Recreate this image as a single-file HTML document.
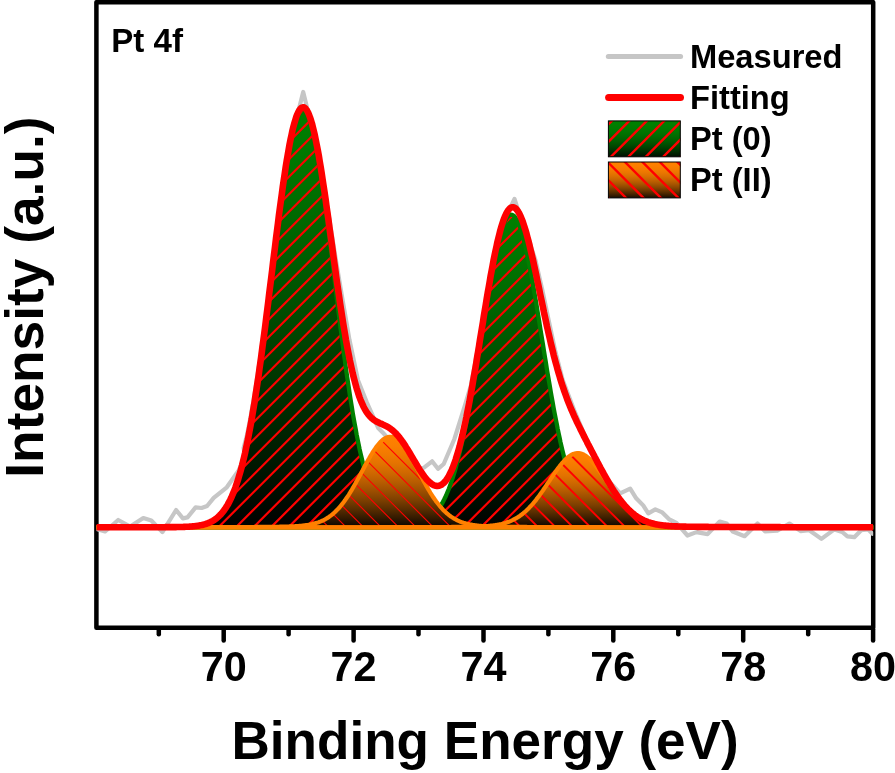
<!DOCTYPE html>
<html lang="en"><head><meta charset="utf-8"><title>Pt 4f XPS</title>
<style>html,body{margin:0;padding:0;background:#fff;}body{width:895px;height:773px;overflow:hidden;}svg{display:block;}</style>
</head><body>
<svg width="895" height="773" viewBox="0 0 895 773">
<defs>
<linearGradient id="gg" x1="0" y1="0" x2="0" y2="1"><stop offset="0.00" stop-color="#008000"/><stop offset="0.10" stop-color="#007900"/><stop offset="0.20" stop-color="#006f00"/><stop offset="0.30" stop-color="#006400"/><stop offset="0.40" stop-color="#005700"/><stop offset="0.50" stop-color="#004a00"/><stop offset="0.60" stop-color="#003c00"/><stop offset="0.70" stop-color="#002e00"/><stop offset="0.80" stop-color="#001f00"/><stop offset="0.90" stop-color="#001000"/><stop offset="1.00" stop-color="#000000"/></linearGradient>
<linearGradient id="og" x1="0" y1="0" x2="0" y2="1"><stop offset="0.00" stop-color="#ff8000"/><stop offset="0.10" stop-color="#fb7e00"/><stop offset="0.20" stop-color="#f17900"/><stop offset="0.30" stop-color="#e37200"/><stop offset="0.40" stop-color="#cf6800"/><stop offset="0.50" stop-color="#b85c00"/><stop offset="0.60" stop-color="#9c4e00"/><stop offset="0.70" stop-color="#7d3f00"/><stop offset="0.80" stop-color="#592d00"/><stop offset="0.90" stop-color="#321900"/><stop offset="1.00" stop-color="#080400"/></linearGradient>
<linearGradient id="lgg" x1="0" y1="0" x2="0" y2="1"><stop offset="0.00" stop-color="#008000"/><stop offset="0.10" stop-color="#007f00"/><stop offset="0.20" stop-color="#007b00"/><stop offset="0.30" stop-color="#007600"/><stop offset="0.40" stop-color="#006e00"/><stop offset="0.50" stop-color="#006300"/><stop offset="0.60" stop-color="#005700"/><stop offset="0.70" stop-color="#004800"/><stop offset="0.80" stop-color="#003600"/><stop offset="0.90" stop-color="#002300"/><stop offset="1.00" stop-color="#000d00"/></linearGradient>
<linearGradient id="log" x1="0" y1="0" x2="0" y2="1"><stop offset="0.00" stop-color="#ff8000"/><stop offset="0.10" stop-color="#fd7f00"/><stop offset="0.20" stop-color="#f67b00"/><stop offset="0.30" stop-color="#ea7600"/><stop offset="0.40" stop-color="#da6e00"/><stop offset="0.50" stop-color="#c66300"/><stop offset="0.60" stop-color="#ac5700"/><stop offset="0.70" stop-color="#8f4800"/><stop offset="0.80" stop-color="#6c3600"/><stop offset="0.90" stop-color="#452300"/><stop offset="1.00" stop-color="#1a0d00"/></linearGradient>
<path id="pg1" d="M86.4 527.40 L96.4 527.40 L97.4 527.40 L98.3 527.40 L99.3 527.40 L100.3 527.40 L101.3 527.40 L102.2 527.40 L103.2 527.40 L104.2 527.40 L105.1 527.40 L106.1 527.40 L107.1 527.40 L108.1 527.40 L109.0 527.40 L110.0 527.40 L111.0 527.40 L111.9 527.40 L112.9 527.40 L113.9 527.40 L114.8 527.40 L115.8 527.40 L116.8 527.40 L117.8 527.40 L118.7 527.40 L119.7 527.40 L120.7 527.40 L121.6 527.40 L122.6 527.40 L123.6 527.40 L124.6 527.40 L125.5 527.40 L126.5 527.40 L127.5 527.40 L128.4 527.40 L129.4 527.40 L130.4 527.40 L131.4 527.40 L132.3 527.40 L133.3 527.40 L134.3 527.40 L135.2 527.40 L136.2 527.40 L137.2 527.40 L138.2 527.40 L139.1 527.40 L140.1 527.40 L141.1 527.40 L142.0 527.40 L143.0 527.40 L144.0 527.40 L144.9 527.40 L145.9 527.40 L146.9 527.40 L147.9 527.40 L148.8 527.40 L149.8 527.40 L150.8 527.40 L151.7 527.40 L152.7 527.40 L153.7 527.40 L154.7 527.40 L155.6 527.39 L156.6 527.39 L157.6 527.39 L158.5 527.39 L159.5 527.39 L160.5 527.39 L161.5 527.39 L162.4 527.38 L163.4 527.38 L164.4 527.38 L165.3 527.38 L166.3 527.37 L167.3 527.37 L168.3 527.37 L169.2 527.36 L170.2 527.35 L171.2 527.35 L172.1 527.34 L173.1 527.33 L174.1 527.32 L175.1 527.31 L176.0 527.30 L177.0 527.29 L178.0 527.27 L178.9 527.25 L179.9 527.23 L180.9 527.21 L181.8 527.19 L182.8 527.16 L183.8 527.13 L184.8 527.10 L185.7 527.06 L186.7 527.02 L187.7 526.97 L188.6 526.92 L189.6 526.86 L190.6 526.79 L191.6 526.72 L192.5 526.64 L193.5 526.55 L194.5 526.45 L195.4 526.34 L196.4 526.22 L197.4 526.09 L198.4 525.94 L199.3 525.78 L200.3 525.61 L201.3 525.41 L202.2 525.20 L203.2 524.97 L204.2 524.71 L205.2 524.43 L206.1 524.12 L207.1 523.79 L208.1 523.43 L209.0 523.03 L210.0 522.60 L211.0 522.13 L211.9 521.63 L212.9 521.08 L213.9 520.48 L214.9 519.83 L215.8 519.14 L216.8 518.39 L217.8 517.57 L218.7 516.70 L219.7 515.76 L220.7 514.75 L221.7 513.67 L222.6 512.50 L223.6 511.26 L224.6 509.93 L225.5 508.50 L226.5 506.98 L227.5 505.36 L228.5 503.64 L229.4 501.80 L230.4 499.85 L231.4 497.78 L232.3 495.58 L233.3 493.26 L234.3 490.80 L235.3 488.20 L236.2 485.46 L237.2 482.57 L238.2 479.53 L239.1 476.34 L240.1 472.98 L241.1 469.46 L242.1 465.77 L243.0 461.92 L244.0 457.89 L245.0 453.68 L245.9 449.29 L246.9 444.73 L247.9 439.98 L248.8 435.05 L249.8 429.94 L250.8 424.64 L251.8 419.17 L252.7 413.51 L253.7 407.68 L254.7 401.67 L255.6 395.48 L256.6 389.13 L257.6 382.61 L258.6 375.94 L259.5 369.11 L260.5 362.14 L261.5 355.03 L262.4 347.79 L263.4 340.42 L264.4 332.95 L265.4 325.37 L266.3 317.70 L267.3 309.96 L268.3 302.15 L269.2 294.29 L270.2 286.39 L271.2 278.47 L272.2 270.53 L273.1 262.61 L274.1 254.70 L275.1 246.83 L276.0 239.02 L277.0 231.29 L278.0 223.64 L278.9 216.10 L279.9 208.68 L280.9 201.41 L281.9 194.29 L282.8 187.35 L283.8 180.61 L284.8 174.08 L285.7 167.78 L286.7 161.73 L287.7 155.94 L288.7 150.42 L289.6 145.20 L290.6 140.28 L291.6 135.68 L292.5 131.42 L293.5 127.50 L294.5 123.94 L295.5 120.74 L296.4 117.92 L297.4 115.49 L298.4 113.44 L299.3 111.79 L300.3 110.54 L301.3 109.70 L302.3 109.27 L303.2 109.24 L304.2 109.62 L305.2 110.41 L306.1 111.61 L307.1 113.21 L308.1 115.20 L309.0 117.59 L310.0 120.36 L311.0 123.51 L312.0 127.02 L312.9 130.90 L313.9 135.12 L314.9 139.67 L315.8 144.55 L316.8 149.73 L317.8 155.21 L318.8 160.97 L319.7 166.99 L320.7 173.26 L321.7 179.76 L322.6 186.48 L323.6 193.39 L324.6 200.48 L325.6 207.73 L326.5 215.13 L327.5 222.66 L328.5 230.30 L329.4 238.02 L330.4 245.83 L331.4 253.69 L332.4 261.59 L333.3 269.51 L334.3 277.44 L335.3 285.37 L336.2 293.27 L337.2 301.14 L338.2 308.96 L339.2 316.71 L340.1 324.39 L341.1 331.98 L342.1 339.47 L343.0 346.84 L344.0 354.10 L345.0 361.23 L345.9 368.22 L346.9 375.07 L347.9 381.76 L348.9 388.30 L349.8 394.67 L350.8 400.88 L351.8 406.91 L352.7 412.77 L353.7 418.45 L354.7 423.95 L355.7 429.27 L356.6 434.40 L357.6 439.35 L358.6 444.12 L359.5 448.71 L360.5 453.12 L361.5 457.35 L362.5 461.41 L363.4 465.29 L364.4 469.00 L365.4 472.54 L366.3 475.92 L367.3 479.13 L368.3 482.19 L369.3 485.10 L370.2 487.86 L371.2 490.47 L372.2 492.95 L373.1 495.29 L374.1 497.50 L375.1 499.59 L376.0 501.55 L377.0 503.41 L378.0 505.15 L379.0 506.78 L379.9 508.31 L380.9 509.75 L381.9 511.09 L382.8 512.35 L383.8 513.52 L384.8 514.62 L385.8 515.63 L386.7 516.58 L387.7 517.47 L388.7 518.28 L389.6 519.04 L390.6 519.75 L391.6 520.40 L392.6 521.00 L393.5 521.56 L394.5 522.07 L395.5 522.54 L396.4 522.98 L397.4 523.38 L398.4 523.75 L399.4 524.08 L400.3 524.39 L401.3 524.68 L402.3 524.93 L403.2 525.17 L404.2 525.39 L405.2 525.58 L406.1 525.76 L407.1 525.92 L408.1 526.07 L409.1 526.21 L410.0 526.33 L411.0 526.44 L412.0 526.54 L412.9 526.63 L413.9 526.71 L414.9 526.78 L415.9 526.85 L416.8 526.91 L417.8 526.96 L418.8 527.01 L419.7 527.05 L420.7 527.09 L421.7 527.13 L422.7 527.16 L423.6 527.19 L424.6 527.21 L425.6 527.23 L426.5 527.25 L427.5 527.27 L428.5 527.28 L429.5 527.30 L430.4 527.31 L431.4 527.32 L432.4 527.33 L433.3 527.34 L434.3 527.35 L435.3 527.35 L436.2 527.36 L437.2 527.36 L438.2 527.37 L439.2 527.37 L440.1 527.38 L441.1 527.38 L442.1 527.38 L443.0 527.38 L444.0 527.39 L445.0 527.39 L446.0 527.39 L446.9 527.39 L447.9 527.39 L448.9 527.39 L449.8 527.39 L450.8 527.40 L451.8 527.40 L452.8 527.40 L453.7 527.40 L454.7 527.40 L455.7 527.40 L456.6 527.40 L457.6 527.40 L458.6 527.40 L459.6 527.40 L460.5 527.40 L461.5 527.40 L462.5 527.40 L463.4 527.40 L464.4 527.40 L465.4 527.40 L466.4 527.40 L467.3 527.40 L468.3 527.40 L469.3 527.40 L470.2 527.40 L471.2 527.40 L472.2 527.40 L473.1 527.40 L474.1 527.40 L475.1 527.40 L476.1 527.40 L477.0 527.40 L478.0 527.40 L479.0 527.40 L479.9 527.40 L480.9 527.40 L481.9 527.40 L482.9 527.40 L483.8 527.40 L484.8 527.40 L485.8 527.40 L486.7 527.40 L487.7 527.40 L488.7 527.40 L489.7 527.40 L490.6 527.40 L491.6 527.40 L492.6 527.40 L493.5 527.40 L494.5 527.40 L495.5 527.40 L496.5 527.40 L497.4 527.40 L498.4 527.40 L499.4 527.40 L500.3 527.40 L501.3 527.40 L502.3 527.40 L503.2 527.40 L504.2 527.40 L505.2 527.40 L506.2 527.40 L507.1 527.40 L508.1 527.40 L509.1 527.40 L510.0 527.40 L511.0 527.40 L512.0 527.40 L513.0 527.40 L513.9 527.40 L514.9 527.40 L515.9 527.40 L516.8 527.40 L517.8 527.40 L518.8 527.40 L519.8 527.40 L520.7 527.40 L521.7 527.40 L522.7 527.40 L523.6 527.40 L524.6 527.40 L525.6 527.40 L526.6 527.40 L527.5 527.40 L528.5 527.40 L529.5 527.40 L530.4 527.40 L531.4 527.40 L532.4 527.40 L533.4 527.40 L534.3 527.40 L535.3 527.40 L536.3 527.40 L537.2 527.40 L538.2 527.40 L539.2 527.40 L540.1 527.40 L541.1 527.40 L542.1 527.40 L543.1 527.40 L544.0 527.40 L545.0 527.40 L546.0 527.40 L546.9 527.40 L547.9 527.40 L548.9 527.40 L549.9 527.40 L550.8 527.40 L551.8 527.40 L552.8 527.40 L553.7 527.40 L554.7 527.40 L555.7 527.40 L556.7 527.40 L557.6 527.40 L558.6 527.40 L559.6 527.40 L560.5 527.40 L561.5 527.40 L562.5 527.40 L563.5 527.40 L564.4 527.40 L565.4 527.40 L566.4 527.40 L567.3 527.40 L568.3 527.40 L569.3 527.40 L570.2 527.40 L571.2 527.40 L572.2 527.40 L573.2 527.40 L574.1 527.40 L575.1 527.40 L576.1 527.40 L577.0 527.40 L578.0 527.40 L579.0 527.40 L580.0 527.40 L580.9 527.40 L581.9 527.40 L582.9 527.40 L583.8 527.40 L584.8 527.40 L585.8 527.40 L586.8 527.40 L587.7 527.40 L588.7 527.40 L589.7 527.40 L590.6 527.40 L591.6 527.40 L592.6 527.40 L593.6 527.40 L594.5 527.40 L595.5 527.40 L596.5 527.40 L597.4 527.40 L598.4 527.40 L599.4 527.40 L600.3 527.40 L601.3 527.40 L602.3 527.40 L603.3 527.40 L604.2 527.40 L605.2 527.40 L606.2 527.40 L607.1 527.40 L608.1 527.40 L609.1 527.40 L610.1 527.40 L611.0 527.40 L612.0 527.40 L613.0 527.40 L613.9 527.40 L614.9 527.40 L615.9 527.40 L616.9 527.40 L617.8 527.40 L618.8 527.40 L619.8 527.40 L620.7 527.40 L621.7 527.40 L622.7 527.40 L623.7 527.40 L624.6 527.40 L625.6 527.40 L626.6 527.40 L627.5 527.40 L628.5 527.40 L629.5 527.40 L630.5 527.40 L631.4 527.40 L632.4 527.40 L633.4 527.40 L634.3 527.40 L635.3 527.40 L636.3 527.40 L637.2 527.40 L638.2 527.40 L639.2 527.40 L640.2 527.40 L641.1 527.40 L642.1 527.40 L643.1 527.40 L644.0 527.40 L645.0 527.40 L646.0 527.40 L647.0 527.40 L647.9 527.40 L648.9 527.40 L649.9 527.40 L650.8 527.40 L651.8 527.40 L652.8 527.40 L653.8 527.40 L654.7 527.40 L655.7 527.40 L656.7 527.40 L657.6 527.40 L658.6 527.40 L659.6 527.40 L660.6 527.40 L661.5 527.40 L662.5 527.40 L663.5 527.40 L664.4 527.40 L665.4 527.40 L666.4 527.40 L667.3 527.40 L668.3 527.40 L669.3 527.40 L670.3 527.40 L671.2 527.40 L672.2 527.40 L673.2 527.40 L674.1 527.40 L675.1 527.40 L676.1 527.40 L677.1 527.40 L678.0 527.40 L679.0 527.40 L680.0 527.40 L680.9 527.40 L681.9 527.40 L682.9 527.40 L683.9 527.40 L684.8 527.40 L685.8 527.40 L686.8 527.40 L687.7 527.40 L688.7 527.40 L689.7 527.40 L690.7 527.40 L691.6 527.40 L692.6 527.40 L693.6 527.40 L694.5 527.40 L695.5 527.40 L696.5 527.40 L697.4 527.40 L698.4 527.40 L699.4 527.40 L700.4 527.40 L701.3 527.40 L702.3 527.40 L703.3 527.40 L704.2 527.40 L705.2 527.40 L706.2 527.40 L707.2 527.40 L708.1 527.40 L709.1 527.40 L710.1 527.40 L711.0 527.40 L712.0 527.40 L713.0 527.40 L714.0 527.40 L714.9 527.40 L715.9 527.40 L716.9 527.40 L717.8 527.40 L718.8 527.40 L719.8 527.40 L720.8 527.40 L721.7 527.40 L722.7 527.40 L723.7 527.40 L724.6 527.40 L725.6 527.40 L726.6 527.40 L727.6 527.40 L728.5 527.40 L729.5 527.40 L730.5 527.40 L731.4 527.40 L732.4 527.40 L733.4 527.40 L734.3 527.40 L735.3 527.40 L736.3 527.40 L737.3 527.40 L738.2 527.40 L739.2 527.40 L740.2 527.40 L741.1 527.40 L742.1 527.40 L743.1 527.40 L744.1 527.40 L745.0 527.40 L746.0 527.40 L747.0 527.40 L747.9 527.40 L748.9 527.40 L749.9 527.40 L750.9 527.40 L751.8 527.40 L752.8 527.40 L753.8 527.40 L754.7 527.40 L755.7 527.40 L756.7 527.40 L757.7 527.40 L758.6 527.40 L759.6 527.40 L760.6 527.40 L761.5 527.40 L762.5 527.40 L763.5 527.40 L764.4 527.40 L765.4 527.40 L766.4 527.40 L767.4 527.40 L768.3 527.40 L769.3 527.40 L770.3 527.40 L771.2 527.40 L772.2 527.40 L773.2 527.40 L774.2 527.40 L775.1 527.40 L776.1 527.40 L777.1 527.40 L778.0 527.40 L779.0 527.40 L780.0 527.40 L781.0 527.40 L781.9 527.40 L782.9 527.40 L783.9 527.40 L784.8 527.40 L785.8 527.40 L786.8 527.40 L787.8 527.40 L788.7 527.40 L789.7 527.40 L790.7 527.40 L791.6 527.40 L792.6 527.40 L793.6 527.40 L794.5 527.40 L795.5 527.40 L796.5 527.40 L797.5 527.40 L798.4 527.40 L799.4 527.40 L800.4 527.40 L801.3 527.40 L802.3 527.40 L803.3 527.40 L804.3 527.40 L805.2 527.40 L806.2 527.40 L807.2 527.40 L808.1 527.40 L809.1 527.40 L810.1 527.40 L811.1 527.40 L812.0 527.40 L813.0 527.40 L814.0 527.40 L814.9 527.40 L815.9 527.40 L816.9 527.40 L817.9 527.40 L818.8 527.40 L819.8 527.40 L820.8 527.40 L821.7 527.40 L822.7 527.40 L823.7 527.40 L824.6 527.40 L825.6 527.40 L826.6 527.40 L827.6 527.40 L828.5 527.40 L829.5 527.40 L830.5 527.40 L831.4 527.40 L832.4 527.40 L833.4 527.40 L834.4 527.40 L835.3 527.40 L836.3 527.40 L837.3 527.40 L838.2 527.40 L839.2 527.40 L840.2 527.40 L841.2 527.40 L842.1 527.40 L843.1 527.40 L844.1 527.40 L845.0 527.40 L846.0 527.40 L847.0 527.40 L848.0 527.40 L848.9 527.40 L849.9 527.40 L850.9 527.40 L851.8 527.40 L852.8 527.40 L853.8 527.40 L854.8 527.40 L855.7 527.40 L856.7 527.40 L857.7 527.40 L858.6 527.40 L859.6 527.40 L860.6 527.40 L861.5 527.40 L862.5 527.40 L863.5 527.40 L864.5 527.40 L865.4 527.40 L866.4 527.40 L867.4 527.40 L868.3 527.40 L869.3 527.40 L870.3 527.40 L871.3 527.40 L872.2 527.40 L873.2 527.40 L883.2 527.40 Z"/>
<path id="pg2" d="M86.4 527.40 L96.4 527.40 L97.4 527.40 L98.3 527.40 L99.3 527.40 L100.3 527.40 L101.3 527.40 L102.2 527.40 L103.2 527.40 L104.2 527.40 L105.1 527.40 L106.1 527.40 L107.1 527.40 L108.1 527.40 L109.0 527.40 L110.0 527.40 L111.0 527.40 L111.9 527.40 L112.9 527.40 L113.9 527.40 L114.8 527.40 L115.8 527.40 L116.8 527.40 L117.8 527.40 L118.7 527.40 L119.7 527.40 L120.7 527.40 L121.6 527.40 L122.6 527.40 L123.6 527.40 L124.6 527.40 L125.5 527.40 L126.5 527.40 L127.5 527.40 L128.4 527.40 L129.4 527.40 L130.4 527.40 L131.4 527.40 L132.3 527.40 L133.3 527.40 L134.3 527.40 L135.2 527.40 L136.2 527.40 L137.2 527.40 L138.2 527.40 L139.1 527.40 L140.1 527.40 L141.1 527.40 L142.0 527.40 L143.0 527.40 L144.0 527.40 L144.9 527.40 L145.9 527.40 L146.9 527.40 L147.9 527.40 L148.8 527.40 L149.8 527.40 L150.8 527.40 L151.7 527.40 L152.7 527.40 L153.7 527.40 L154.7 527.40 L155.6 527.40 L156.6 527.40 L157.6 527.40 L158.5 527.40 L159.5 527.40 L160.5 527.40 L161.5 527.40 L162.4 527.40 L163.4 527.40 L164.4 527.40 L165.3 527.40 L166.3 527.40 L167.3 527.40 L168.3 527.40 L169.2 527.40 L170.2 527.40 L171.2 527.40 L172.1 527.40 L173.1 527.40 L174.1 527.40 L175.1 527.40 L176.0 527.40 L177.0 527.40 L178.0 527.40 L178.9 527.40 L179.9 527.40 L180.9 527.40 L181.8 527.40 L182.8 527.40 L183.8 527.40 L184.8 527.40 L185.7 527.40 L186.7 527.40 L187.7 527.40 L188.6 527.40 L189.6 527.40 L190.6 527.40 L191.6 527.40 L192.5 527.40 L193.5 527.40 L194.5 527.40 L195.4 527.40 L196.4 527.40 L197.4 527.40 L198.4 527.40 L199.3 527.40 L200.3 527.40 L201.3 527.40 L202.2 527.40 L203.2 527.40 L204.2 527.40 L205.2 527.40 L206.1 527.40 L207.1 527.40 L208.1 527.40 L209.0 527.40 L210.0 527.40 L211.0 527.40 L211.9 527.40 L212.9 527.40 L213.9 527.40 L214.9 527.40 L215.8 527.40 L216.8 527.40 L217.8 527.40 L218.7 527.40 L219.7 527.40 L220.7 527.40 L221.7 527.40 L222.6 527.40 L223.6 527.40 L224.6 527.40 L225.5 527.40 L226.5 527.40 L227.5 527.40 L228.5 527.40 L229.4 527.40 L230.4 527.40 L231.4 527.40 L232.3 527.40 L233.3 527.40 L234.3 527.40 L235.3 527.40 L236.2 527.40 L237.2 527.40 L238.2 527.40 L239.1 527.40 L240.1 527.40 L241.1 527.40 L242.1 527.40 L243.0 527.40 L244.0 527.40 L245.0 527.40 L245.9 527.40 L246.9 527.40 L247.9 527.40 L248.8 527.40 L249.8 527.40 L250.8 527.40 L251.8 527.40 L252.7 527.40 L253.7 527.40 L254.7 527.40 L255.6 527.40 L256.6 527.40 L257.6 527.40 L258.6 527.40 L259.5 527.40 L260.5 527.40 L261.5 527.40 L262.4 527.40 L263.4 527.40 L264.4 527.40 L265.4 527.40 L266.3 527.40 L267.3 527.40 L268.3 527.40 L269.2 527.40 L270.2 527.40 L271.2 527.40 L272.2 527.40 L273.1 527.40 L274.1 527.40 L275.1 527.40 L276.0 527.40 L277.0 527.40 L278.0 527.40 L278.9 527.40 L279.9 527.40 L280.9 527.40 L281.9 527.40 L282.8 527.40 L283.8 527.40 L284.8 527.40 L285.7 527.40 L286.7 527.40 L287.7 527.40 L288.7 527.40 L289.6 527.40 L290.6 527.40 L291.6 527.40 L292.5 527.40 L293.5 527.40 L294.5 527.40 L295.5 527.40 L296.4 527.40 L297.4 527.40 L298.4 527.40 L299.3 527.40 L300.3 527.40 L301.3 527.40 L302.3 527.40 L303.2 527.40 L304.2 527.40 L305.2 527.40 L306.1 527.40 L307.1 527.40 L308.1 527.40 L309.0 527.40 L310.0 527.40 L311.0 527.40 L312.0 527.40 L312.9 527.40 L313.9 527.40 L314.9 527.40 L315.8 527.40 L316.8 527.40 L317.8 527.40 L318.8 527.40 L319.7 527.40 L320.7 527.40 L321.7 527.40 L322.6 527.40 L323.6 527.40 L324.6 527.40 L325.6 527.40 L326.5 527.40 L327.5 527.40 L328.5 527.40 L329.4 527.40 L330.4 527.40 L331.4 527.40 L332.4 527.40 L333.3 527.40 L334.3 527.40 L335.3 527.40 L336.2 527.40 L337.2 527.40 L338.2 527.40 L339.2 527.40 L340.1 527.40 L341.1 527.40 L342.1 527.40 L343.0 527.40 L344.0 527.40 L345.0 527.40 L345.9 527.40 L346.9 527.40 L347.9 527.40 L348.9 527.40 L349.8 527.40 L350.8 527.40 L351.8 527.40 L352.7 527.40 L353.7 527.40 L354.7 527.40 L355.7 527.40 L356.6 527.40 L357.6 527.40 L358.6 527.40 L359.5 527.40 L360.5 527.40 L361.5 527.40 L362.5 527.40 L363.4 527.40 L364.4 527.40 L365.4 527.40 L366.3 527.40 L367.3 527.40 L368.3 527.39 L369.3 527.39 L370.2 527.39 L371.2 527.39 L372.2 527.39 L373.1 527.39 L374.1 527.39 L375.1 527.39 L376.0 527.38 L377.0 527.38 L378.0 527.38 L379.0 527.37 L379.9 527.37 L380.9 527.37 L381.9 527.36 L382.8 527.36 L383.8 527.35 L384.8 527.34 L385.8 527.33 L386.7 527.32 L387.7 527.31 L388.7 527.30 L389.6 527.29 L390.6 527.27 L391.6 527.26 L392.6 527.24 L393.5 527.22 L394.5 527.19 L395.5 527.17 L396.4 527.14 L397.4 527.10 L398.4 527.06 L399.4 527.02 L400.3 526.98 L401.3 526.93 L402.3 526.87 L403.2 526.80 L404.2 526.73 L405.2 526.66 L406.1 526.57 L407.1 526.47 L408.1 526.37 L409.1 526.25 L410.0 526.12 L411.0 525.98 L412.0 525.83 L412.9 525.65 L413.9 525.47 L414.9 525.26 L415.9 525.04 L416.8 524.79 L417.8 524.52 L418.8 524.23 L419.7 523.91 L420.7 523.56 L421.7 523.19 L422.7 522.78 L423.6 522.33 L424.6 521.85 L425.6 521.33 L426.5 520.77 L427.5 520.16 L428.5 519.50 L429.5 518.79 L430.4 518.03 L431.4 517.22 L432.4 516.34 L433.3 515.39 L434.3 514.39 L435.3 513.31 L436.2 512.15 L437.2 510.92 L438.2 509.61 L439.2 508.21 L440.1 506.72 L441.1 505.14 L442.1 503.47 L443.0 501.69 L444.0 499.81 L445.0 497.82 L446.0 495.73 L446.9 493.51 L447.9 491.18 L448.9 488.73 L449.8 486.15 L450.8 483.45 L451.8 480.61 L452.8 477.65 L453.7 474.54 L454.7 471.31 L455.7 467.93 L456.6 464.41 L457.6 460.76 L458.6 456.96 L459.6 453.02 L460.5 448.94 L461.5 444.72 L462.5 440.37 L463.4 435.87 L464.4 431.24 L465.4 426.48 L466.4 421.59 L467.3 416.57 L468.3 411.44 L469.3 406.19 L470.2 400.83 L471.2 395.36 L472.2 389.80 L473.1 384.15 L474.1 378.42 L475.1 372.62 L476.1 366.75 L477.0 360.83 L478.0 354.86 L479.0 348.86 L479.9 342.84 L480.9 336.81 L481.9 330.78 L482.9 324.77 L483.8 318.78 L484.8 312.84 L485.8 306.94 L486.7 301.12 L487.7 295.37 L488.7 289.72 L489.7 284.18 L490.6 278.76 L491.6 273.48 L492.6 268.34 L493.5 263.37 L494.5 258.58 L495.5 253.97 L496.5 249.57 L497.4 245.38 L498.4 241.42 L499.4 237.70 L500.3 234.22 L501.3 231.01 L502.3 228.06 L503.2 225.38 L504.2 222.99 L505.2 220.90 L506.2 219.10 L507.1 217.60 L508.1 216.41 L509.1 215.53 L510.0 214.96 L511.0 214.71 L512.0 214.78 L513.0 215.16 L513.9 215.86 L514.9 216.87 L515.9 218.19 L516.8 219.81 L517.8 221.74 L518.8 223.96 L519.8 226.46 L520.7 229.25 L521.7 232.32 L522.7 235.64 L523.6 239.22 L524.6 243.05 L525.6 247.10 L526.6 251.38 L527.5 255.87 L528.5 260.55 L529.5 265.42 L530.4 270.46 L531.4 275.66 L532.4 281.00 L533.4 286.48 L534.3 292.06 L535.3 297.76 L536.3 303.54 L537.2 309.39 L538.2 315.31 L539.2 321.28 L540.1 327.28 L541.1 333.30 L542.1 339.33 L543.1 345.35 L544.0 351.37 L545.0 357.35 L546.0 363.30 L546.9 369.20 L547.9 375.04 L548.9 380.82 L549.9 386.52 L550.8 392.13 L551.8 397.65 L552.8 403.08 L553.7 408.39 L554.7 413.60 L555.7 418.68 L556.7 423.64 L557.6 428.48 L558.6 433.19 L559.6 437.76 L560.5 442.20 L561.5 446.50 L562.5 450.66 L563.5 454.68 L564.4 458.56 L565.4 462.30 L566.4 465.90 L567.3 469.35 L568.3 472.67 L569.3 475.85 L570.2 478.90 L571.2 481.81 L572.2 484.59 L573.2 487.24 L574.1 489.77 L575.1 492.17 L576.1 494.45 L577.0 496.61 L578.0 498.67 L579.0 500.61 L580.0 502.45 L580.9 504.18 L581.9 505.81 L582.9 507.36 L583.8 508.80 L584.8 510.17 L585.8 511.44 L586.8 512.64 L587.7 513.77 L588.7 514.82 L589.7 515.80 L590.6 516.71 L591.6 517.56 L592.6 518.36 L593.6 519.10 L594.5 519.78 L595.5 520.42 L596.5 521.01 L597.4 521.55 L598.4 522.06 L599.4 522.52 L600.3 522.95 L601.3 523.35 L602.3 523.71 L603.3 524.05 L604.2 524.36 L605.2 524.64 L606.2 524.90 L607.1 525.13 L608.1 525.35 L609.1 525.55 L610.1 525.73 L611.0 525.89 L612.0 526.04 L613.0 526.18 L613.9 526.30 L614.9 526.41 L615.9 526.51 L616.9 526.61 L617.8 526.69 L618.8 526.76 L619.8 526.83 L620.7 526.89 L621.7 526.95 L622.7 527.00 L623.7 527.04 L624.6 527.08 L625.6 527.12 L626.6 527.15 L627.5 527.18 L628.5 527.20 L629.5 527.23 L630.5 527.25 L631.4 527.26 L632.4 527.28 L633.4 527.29 L634.3 527.31 L635.3 527.32 L636.3 527.33 L637.2 527.34 L638.2 527.34 L639.2 527.35 L640.2 527.36 L641.1 527.36 L642.1 527.37 L643.1 527.37 L644.0 527.38 L645.0 527.38 L646.0 527.38 L647.0 527.38 L647.9 527.39 L648.9 527.39 L649.9 527.39 L650.8 527.39 L651.8 527.39 L652.8 527.39 L653.8 527.39 L654.7 527.39 L655.7 527.40 L656.7 527.40 L657.6 527.40 L658.6 527.40 L659.6 527.40 L660.6 527.40 L661.5 527.40 L662.5 527.40 L663.5 527.40 L664.4 527.40 L665.4 527.40 L666.4 527.40 L667.3 527.40 L668.3 527.40 L669.3 527.40 L670.3 527.40 L671.2 527.40 L672.2 527.40 L673.2 527.40 L674.1 527.40 L675.1 527.40 L676.1 527.40 L677.1 527.40 L678.0 527.40 L679.0 527.40 L680.0 527.40 L680.9 527.40 L681.9 527.40 L682.9 527.40 L683.9 527.40 L684.8 527.40 L685.8 527.40 L686.8 527.40 L687.7 527.40 L688.7 527.40 L689.7 527.40 L690.7 527.40 L691.6 527.40 L692.6 527.40 L693.6 527.40 L694.5 527.40 L695.5 527.40 L696.5 527.40 L697.4 527.40 L698.4 527.40 L699.4 527.40 L700.4 527.40 L701.3 527.40 L702.3 527.40 L703.3 527.40 L704.2 527.40 L705.2 527.40 L706.2 527.40 L707.2 527.40 L708.1 527.40 L709.1 527.40 L710.1 527.40 L711.0 527.40 L712.0 527.40 L713.0 527.40 L714.0 527.40 L714.9 527.40 L715.9 527.40 L716.9 527.40 L717.8 527.40 L718.8 527.40 L719.8 527.40 L720.8 527.40 L721.7 527.40 L722.7 527.40 L723.7 527.40 L724.6 527.40 L725.6 527.40 L726.6 527.40 L727.6 527.40 L728.5 527.40 L729.5 527.40 L730.5 527.40 L731.4 527.40 L732.4 527.40 L733.4 527.40 L734.3 527.40 L735.3 527.40 L736.3 527.40 L737.3 527.40 L738.2 527.40 L739.2 527.40 L740.2 527.40 L741.1 527.40 L742.1 527.40 L743.1 527.40 L744.1 527.40 L745.0 527.40 L746.0 527.40 L747.0 527.40 L747.9 527.40 L748.9 527.40 L749.9 527.40 L750.9 527.40 L751.8 527.40 L752.8 527.40 L753.8 527.40 L754.7 527.40 L755.7 527.40 L756.7 527.40 L757.7 527.40 L758.6 527.40 L759.6 527.40 L760.6 527.40 L761.5 527.40 L762.5 527.40 L763.5 527.40 L764.4 527.40 L765.4 527.40 L766.4 527.40 L767.4 527.40 L768.3 527.40 L769.3 527.40 L770.3 527.40 L771.2 527.40 L772.2 527.40 L773.2 527.40 L774.2 527.40 L775.1 527.40 L776.1 527.40 L777.1 527.40 L778.0 527.40 L779.0 527.40 L780.0 527.40 L781.0 527.40 L781.9 527.40 L782.9 527.40 L783.9 527.40 L784.8 527.40 L785.8 527.40 L786.8 527.40 L787.8 527.40 L788.7 527.40 L789.7 527.40 L790.7 527.40 L791.6 527.40 L792.6 527.40 L793.6 527.40 L794.5 527.40 L795.5 527.40 L796.5 527.40 L797.5 527.40 L798.4 527.40 L799.4 527.40 L800.4 527.40 L801.3 527.40 L802.3 527.40 L803.3 527.40 L804.3 527.40 L805.2 527.40 L806.2 527.40 L807.2 527.40 L808.1 527.40 L809.1 527.40 L810.1 527.40 L811.1 527.40 L812.0 527.40 L813.0 527.40 L814.0 527.40 L814.9 527.40 L815.9 527.40 L816.9 527.40 L817.9 527.40 L818.8 527.40 L819.8 527.40 L820.8 527.40 L821.7 527.40 L822.7 527.40 L823.7 527.40 L824.6 527.40 L825.6 527.40 L826.6 527.40 L827.6 527.40 L828.5 527.40 L829.5 527.40 L830.5 527.40 L831.4 527.40 L832.4 527.40 L833.4 527.40 L834.4 527.40 L835.3 527.40 L836.3 527.40 L837.3 527.40 L838.2 527.40 L839.2 527.40 L840.2 527.40 L841.2 527.40 L842.1 527.40 L843.1 527.40 L844.1 527.40 L845.0 527.40 L846.0 527.40 L847.0 527.40 L848.0 527.40 L848.9 527.40 L849.9 527.40 L850.9 527.40 L851.8 527.40 L852.8 527.40 L853.8 527.40 L854.8 527.40 L855.7 527.40 L856.7 527.40 L857.7 527.40 L858.6 527.40 L859.6 527.40 L860.6 527.40 L861.5 527.40 L862.5 527.40 L863.5 527.40 L864.5 527.40 L865.4 527.40 L866.4 527.40 L867.4 527.40 L868.3 527.40 L869.3 527.40 L870.3 527.40 L871.3 527.40 L872.2 527.40 L873.2 527.40 L883.2 527.40 Z"/>
<path id="po1" d="M86.4 527.40 L96.4 527.30 L97.4 527.30 L98.3 527.30 L99.3 527.30 L100.3 527.30 L101.3 527.30 L102.2 527.30 L103.2 527.30 L104.2 527.30 L105.1 527.30 L106.1 527.30 L107.1 527.30 L108.1 527.30 L109.0 527.30 L110.0 527.29 L111.0 527.29 L111.9 527.29 L112.9 527.29 L113.9 527.29 L114.8 527.29 L115.8 527.29 L116.8 527.29 L117.8 527.29 L118.7 527.29 L119.7 527.29 L120.7 527.29 L121.6 527.29 L122.6 527.28 L123.6 527.28 L124.6 527.28 L125.5 527.28 L126.5 527.28 L127.5 527.28 L128.4 527.28 L129.4 527.28 L130.4 527.28 L131.4 527.28 L132.3 527.28 L133.3 527.28 L134.3 527.27 L135.2 527.27 L136.2 527.27 L137.2 527.27 L138.2 527.27 L139.1 527.27 L140.1 527.27 L141.1 527.27 L142.0 527.27 L143.0 527.27 L144.0 527.26 L144.9 527.26 L145.9 527.26 L146.9 527.26 L147.9 527.26 L148.8 527.26 L149.8 527.26 L150.8 527.26 L151.7 527.26 L152.7 527.25 L153.7 527.25 L154.7 527.25 L155.6 527.25 L156.6 527.25 L157.6 527.25 L158.5 527.25 L159.5 527.25 L160.5 527.24 L161.5 527.24 L162.4 527.24 L163.4 527.24 L164.4 527.24 L165.3 527.24 L166.3 527.24 L167.3 527.24 L168.3 527.23 L169.2 527.23 L170.2 527.23 L171.2 527.23 L172.1 527.23 L173.1 527.23 L174.1 527.22 L175.1 527.22 L176.0 527.22 L177.0 527.22 L178.0 527.22 L178.9 527.22 L179.9 527.22 L180.9 527.21 L181.8 527.21 L182.8 527.21 L183.8 527.21 L184.8 527.21 L185.7 527.20 L186.7 527.20 L187.7 527.20 L188.6 527.20 L189.6 527.20 L190.6 527.20 L191.6 527.19 L192.5 527.19 L193.5 527.19 L194.5 527.19 L195.4 527.19 L196.4 527.18 L197.4 527.18 L198.4 527.18 L199.3 527.18 L200.3 527.17 L201.3 527.17 L202.2 527.17 L203.2 527.17 L204.2 527.17 L205.2 527.16 L206.1 527.16 L207.1 527.16 L208.1 527.16 L209.0 527.15 L210.0 527.15 L211.0 527.15 L211.9 527.15 L212.9 527.14 L213.9 527.14 L214.9 527.14 L215.8 527.13 L216.8 527.13 L217.8 527.13 L218.7 527.13 L219.7 527.12 L220.7 527.12 L221.7 527.12 L222.6 527.11 L223.6 527.11 L224.6 527.11 L225.5 527.10 L226.5 527.10 L227.5 527.10 L228.5 527.09 L229.4 527.09 L230.4 527.09 L231.4 527.08 L232.3 527.08 L233.3 527.07 L234.3 527.07 L235.3 527.07 L236.2 527.06 L237.2 527.06 L238.2 527.05 L239.1 527.05 L240.1 527.05 L241.1 527.04 L242.1 527.04 L243.0 527.03 L244.0 527.03 L245.0 527.02 L245.9 527.02 L246.9 527.01 L247.9 527.01 L248.8 527.00 L249.8 527.00 L250.8 526.99 L251.8 526.99 L252.7 526.98 L253.7 526.98 L254.7 526.97 L255.6 526.96 L256.6 526.96 L257.6 526.95 L258.6 526.94 L259.5 526.94 L260.5 526.93 L261.5 526.92 L262.4 526.92 L263.4 526.91 L264.4 526.90 L265.4 526.89 L266.3 526.88 L267.3 526.88 L268.3 526.87 L269.2 526.86 L270.2 526.85 L271.2 526.84 L272.2 526.83 L273.1 526.81 L274.1 526.80 L275.1 526.79 L276.0 526.78 L277.0 526.76 L278.0 526.75 L278.9 526.73 L279.9 526.71 L280.9 526.70 L281.9 526.68 L282.8 526.66 L283.8 526.63 L284.8 526.61 L285.7 526.59 L286.7 526.56 L287.7 526.53 L288.7 526.50 L289.6 526.46 L290.6 526.43 L291.6 526.39 L292.5 526.34 L293.5 526.30 L294.5 526.25 L295.5 526.19 L296.4 526.13 L297.4 526.07 L298.4 526.00 L299.3 525.92 L300.3 525.84 L301.3 525.75 L302.3 525.65 L303.2 525.55 L304.2 525.43 L305.2 525.31 L306.1 525.18 L307.1 525.03 L308.1 524.88 L309.0 524.71 L310.0 524.53 L311.0 524.34 L312.0 524.13 L312.9 523.90 L313.9 523.66 L314.9 523.40 L315.8 523.12 L316.8 522.82 L317.8 522.50 L318.8 522.15 L319.7 521.79 L320.7 521.40 L321.7 520.98 L322.6 520.53 L323.6 520.06 L324.6 519.56 L325.6 519.03 L326.5 518.46 L327.5 517.86 L328.5 517.23 L329.4 516.56 L330.4 515.86 L331.4 515.11 L332.4 514.33 L333.3 513.51 L334.3 512.65 L335.3 511.74 L336.2 510.80 L337.2 509.81 L338.2 508.78 L339.2 507.70 L340.1 506.58 L341.1 505.42 L342.1 504.21 L343.0 502.96 L344.0 501.67 L345.0 500.33 L345.9 498.95 L346.9 497.53 L347.9 496.06 L348.9 494.56 L349.8 493.02 L350.8 491.44 L351.8 489.83 L352.7 488.19 L353.7 486.51 L354.7 484.81 L355.7 483.08 L356.6 481.33 L357.6 479.55 L358.6 477.76 L359.5 475.96 L360.5 474.15 L361.5 472.33 L362.5 470.51 L363.4 468.70 L364.4 466.89 L365.4 465.09 L366.3 463.30 L367.3 461.53 L368.3 459.79 L369.3 458.08 L370.2 456.40 L371.2 454.76 L372.2 453.16 L373.1 451.61 L374.1 450.12 L375.1 448.68 L376.0 447.30 L377.0 445.99 L378.0 444.76 L379.0 443.59 L379.9 442.51 L380.9 441.51 L381.9 440.60 L382.8 439.78 L383.8 439.06 L384.8 438.43 L385.8 437.90 L386.7 437.47 L387.7 437.15 L388.7 436.93 L389.6 436.82 L390.6 436.81 L391.6 436.91 L392.6 437.11 L393.5 437.42 L394.5 437.83 L395.5 438.35 L396.4 438.96 L397.4 439.67 L398.4 440.48 L399.4 441.37 L400.3 442.36 L401.3 443.43 L402.3 444.58 L403.2 445.80 L404.2 447.10 L405.2 448.47 L406.1 449.90 L407.1 451.39 L408.1 452.93 L409.1 454.52 L410.0 456.15 L411.0 457.83 L412.0 459.53 L412.9 461.27 L413.9 463.04 L414.9 464.82 L415.9 466.62 L416.8 468.43 L417.8 470.24 L418.8 472.06 L419.7 473.88 L420.7 475.69 L421.7 477.50 L422.7 479.29 L423.6 481.06 L424.6 482.82 L425.6 484.55 L426.5 486.26 L427.5 487.94 L428.5 489.59 L429.5 491.20 L430.4 492.79 L431.4 494.33 L432.4 495.84 L433.3 497.31 L434.3 498.74 L435.3 500.13 L436.2 501.47 L437.2 502.77 L438.2 504.03 L439.2 505.24 L440.1 506.41 L441.1 507.54 L442.1 508.62 L443.0 509.66 L444.0 510.65 L445.0 511.61 L446.0 512.52 L446.9 513.38 L447.9 514.21 L448.9 515.00 L449.8 515.75 L450.8 516.46 L451.8 517.13 L452.8 517.77 L453.7 518.37 L454.7 518.94 L455.7 519.48 L456.6 519.99 L457.6 520.47 L458.6 520.91 L459.6 521.34 L460.5 521.73 L461.5 522.10 L462.5 522.45 L463.4 522.77 L464.4 523.07 L465.4 523.36 L466.4 523.62 L467.3 523.87 L468.3 524.09 L469.3 524.31 L470.2 524.50 L471.2 524.68 L472.2 524.85 L473.1 525.01 L474.1 525.16 L475.1 525.29 L476.1 525.41 L477.0 525.53 L478.0 525.64 L479.0 525.73 L479.9 525.82 L480.9 525.91 L481.9 525.98 L482.9 526.06 L483.8 526.12 L484.8 526.18 L485.8 526.24 L486.7 526.29 L487.7 526.34 L488.7 526.38 L489.7 526.42 L490.6 526.46 L491.6 526.49 L492.6 526.52 L493.5 526.55 L494.5 526.58 L495.5 526.61 L496.5 526.63 L497.4 526.65 L498.4 526.67 L499.4 526.69 L500.3 526.71 L501.3 526.73 L502.3 526.74 L503.2 526.76 L504.2 526.77 L505.2 526.79 L506.2 526.80 L507.1 526.81 L508.1 526.82 L509.1 526.83 L510.0 526.84 L511.0 526.85 L512.0 526.86 L513.0 526.87 L513.9 526.88 L514.9 526.89 L515.9 526.90 L516.8 526.91 L517.8 526.91 L518.8 526.92 L519.8 526.93 L520.7 526.94 L521.7 526.94 L522.7 526.95 L523.6 526.96 L524.6 526.96 L525.6 526.97 L526.6 526.97 L527.5 526.98 L528.5 526.99 L529.5 526.99 L530.4 527.00 L531.4 527.00 L532.4 527.01 L533.4 527.01 L534.3 527.02 L535.3 527.02 L536.3 527.03 L537.2 527.03 L538.2 527.04 L539.2 527.04 L540.1 527.05 L541.1 527.05 L542.1 527.05 L543.1 527.06 L544.0 527.06 L545.0 527.07 L546.0 527.07 L546.9 527.07 L547.9 527.08 L548.9 527.08 L549.9 527.09 L550.8 527.09 L551.8 527.09 L552.8 527.10 L553.7 527.10 L554.7 527.10 L555.7 527.11 L556.7 527.11 L557.6 527.11 L558.6 527.12 L559.6 527.12 L560.5 527.12 L561.5 527.13 L562.5 527.13 L563.5 527.13 L564.4 527.13 L565.4 527.14 L566.4 527.14 L567.3 527.14 L568.3 527.15 L569.3 527.15 L570.2 527.15 L571.2 527.15 L572.2 527.16 L573.2 527.16 L574.1 527.16 L575.1 527.16 L576.1 527.17 L577.0 527.17 L578.0 527.17 L579.0 527.17 L580.0 527.17 L580.9 527.18 L581.9 527.18 L582.9 527.18 L583.8 527.18 L584.8 527.19 L585.8 527.19 L586.8 527.19 L587.7 527.19 L588.7 527.19 L589.7 527.20 L590.6 527.20 L591.6 527.20 L592.6 527.20 L593.6 527.20 L594.5 527.20 L595.5 527.21 L596.5 527.21 L597.4 527.21 L598.4 527.21 L599.4 527.21 L600.3 527.22 L601.3 527.22 L602.3 527.22 L603.3 527.22 L604.2 527.22 L605.2 527.22 L606.2 527.22 L607.1 527.23 L608.1 527.23 L609.1 527.23 L610.1 527.23 L611.0 527.23 L612.0 527.23 L613.0 527.24 L613.9 527.24 L614.9 527.24 L615.9 527.24 L616.9 527.24 L617.8 527.24 L618.8 527.24 L619.8 527.24 L620.7 527.25 L621.7 527.25 L622.7 527.25 L623.7 527.25 L624.6 527.25 L625.6 527.25 L626.6 527.25 L627.5 527.25 L628.5 527.26 L629.5 527.26 L630.5 527.26 L631.4 527.26 L632.4 527.26 L633.4 527.26 L634.3 527.26 L635.3 527.26 L636.3 527.26 L637.2 527.27 L638.2 527.27 L639.2 527.27 L640.2 527.27 L641.1 527.27 L642.1 527.27 L643.1 527.27 L644.0 527.27 L645.0 527.27 L646.0 527.27 L647.0 527.28 L647.9 527.28 L648.9 527.28 L649.9 527.28 L650.8 527.28 L651.8 527.28 L652.8 527.28 L653.8 527.28 L654.7 527.28 L655.7 527.28 L656.7 527.28 L657.6 527.28 L658.6 527.29 L659.6 527.29 L660.6 527.29 L661.5 527.29 L662.5 527.29 L663.5 527.29 L664.4 527.29 L665.4 527.29 L666.4 527.29 L667.3 527.29 L668.3 527.29 L669.3 527.29 L670.3 527.29 L671.2 527.30 L672.2 527.30 L673.2 527.30 L674.1 527.30 L675.1 527.30 L676.1 527.30 L677.1 527.30 L678.0 527.30 L679.0 527.30 L680.0 527.30 L680.9 527.30 L681.9 527.30 L682.9 527.30 L683.9 527.30 L684.8 527.30 L685.8 527.31 L686.8 527.31 L687.7 527.31 L688.7 527.31 L689.7 527.31 L690.7 527.31 L691.6 527.31 L692.6 527.31 L693.6 527.31 L694.5 527.31 L695.5 527.31 L696.5 527.31 L697.4 527.31 L698.4 527.31 L699.4 527.31 L700.4 527.31 L701.3 527.31 L702.3 527.31 L703.3 527.32 L704.2 527.32 L705.2 527.32 L706.2 527.32 L707.2 527.32 L708.1 527.32 L709.1 527.32 L710.1 527.32 L711.0 527.32 L712.0 527.32 L713.0 527.32 L714.0 527.32 L714.9 527.32 L715.9 527.32 L716.9 527.32 L717.8 527.32 L718.8 527.32 L719.8 527.32 L720.8 527.32 L721.7 527.32 L722.7 527.32 L723.7 527.33 L724.6 527.33 L725.6 527.33 L726.6 527.33 L727.6 527.33 L728.5 527.33 L729.5 527.33 L730.5 527.33 L731.4 527.33 L732.4 527.33 L733.4 527.33 L734.3 527.33 L735.3 527.33 L736.3 527.33 L737.3 527.33 L738.2 527.33 L739.2 527.33 L740.2 527.33 L741.1 527.33 L742.1 527.33 L743.1 527.33 L744.1 527.33 L745.0 527.33 L746.0 527.33 L747.0 527.33 L747.9 527.34 L748.9 527.34 L749.9 527.34 L750.9 527.34 L751.8 527.34 L752.8 527.34 L753.8 527.34 L754.7 527.34 L755.7 527.34 L756.7 527.34 L757.7 527.34 L758.6 527.34 L759.6 527.34 L760.6 527.34 L761.5 527.34 L762.5 527.34 L763.5 527.34 L764.4 527.34 L765.4 527.34 L766.4 527.34 L767.4 527.34 L768.3 527.34 L769.3 527.34 L770.3 527.34 L771.2 527.34 L772.2 527.34 L773.2 527.34 L774.2 527.34 L775.1 527.34 L776.1 527.34 L777.1 527.34 L778.0 527.34 L779.0 527.34 L780.0 527.35 L781.0 527.35 L781.9 527.35 L782.9 527.35 L783.9 527.35 L784.8 527.35 L785.8 527.35 L786.8 527.35 L787.8 527.35 L788.7 527.35 L789.7 527.35 L790.7 527.35 L791.6 527.35 L792.6 527.35 L793.6 527.35 L794.5 527.35 L795.5 527.35 L796.5 527.35 L797.5 527.35 L798.4 527.35 L799.4 527.35 L800.4 527.35 L801.3 527.35 L802.3 527.35 L803.3 527.35 L804.3 527.35 L805.2 527.35 L806.2 527.35 L807.2 527.35 L808.1 527.35 L809.1 527.35 L810.1 527.35 L811.1 527.35 L812.0 527.35 L813.0 527.35 L814.0 527.35 L814.9 527.35 L815.9 527.35 L816.9 527.35 L817.9 527.35 L818.8 527.35 L819.8 527.35 L820.8 527.36 L821.7 527.36 L822.7 527.36 L823.7 527.36 L824.6 527.36 L825.6 527.36 L826.6 527.36 L827.6 527.36 L828.5 527.36 L829.5 527.36 L830.5 527.36 L831.4 527.36 L832.4 527.36 L833.4 527.36 L834.4 527.36 L835.3 527.36 L836.3 527.36 L837.3 527.36 L838.2 527.36 L839.2 527.36 L840.2 527.36 L841.2 527.36 L842.1 527.36 L843.1 527.36 L844.1 527.36 L845.0 527.36 L846.0 527.36 L847.0 527.36 L848.0 527.36 L848.9 527.36 L849.9 527.36 L850.9 527.36 L851.8 527.36 L852.8 527.36 L853.8 527.36 L854.8 527.36 L855.7 527.36 L856.7 527.36 L857.7 527.36 L858.6 527.36 L859.6 527.36 L860.6 527.36 L861.5 527.36 L862.5 527.36 L863.5 527.36 L864.5 527.36 L865.4 527.36 L866.4 527.36 L867.4 527.36 L868.3 527.36 L869.3 527.36 L870.3 527.36 L871.3 527.36 L872.2 527.36 L873.2 527.36 L883.2 527.40 Z"/>
<path id="po2" d="M86.4 527.40 L96.4 527.37 L97.4 527.37 L98.3 527.37 L99.3 527.37 L100.3 527.37 L101.3 527.37 L102.2 527.37 L103.2 527.37 L104.2 527.37 L105.1 527.37 L106.1 527.37 L107.1 527.37 L108.1 527.37 L109.0 527.37 L110.0 527.37 L111.0 527.37 L111.9 527.37 L112.9 527.37 L113.9 527.37 L114.8 527.37 L115.8 527.37 L116.8 527.37 L117.8 527.37 L118.7 527.37 L119.7 527.37 L120.7 527.37 L121.6 527.37 L122.6 527.37 L123.6 527.37 L124.6 527.37 L125.5 527.37 L126.5 527.36 L127.5 527.36 L128.4 527.36 L129.4 527.36 L130.4 527.36 L131.4 527.36 L132.3 527.36 L133.3 527.36 L134.3 527.36 L135.2 527.36 L136.2 527.36 L137.2 527.36 L138.2 527.36 L139.1 527.36 L140.1 527.36 L141.1 527.36 L142.0 527.36 L143.0 527.36 L144.0 527.36 L144.9 527.36 L145.9 527.36 L146.9 527.36 L147.9 527.36 L148.8 527.36 L149.8 527.36 L150.8 527.36 L151.7 527.36 L152.7 527.36 L153.7 527.36 L154.7 527.36 L155.6 527.36 L156.6 527.36 L157.6 527.36 L158.5 527.36 L159.5 527.36 L160.5 527.36 L161.5 527.36 L162.4 527.36 L163.4 527.36 L164.4 527.36 L165.3 527.36 L166.3 527.36 L167.3 527.36 L168.3 527.36 L169.2 527.36 L170.2 527.36 L171.2 527.36 L172.1 527.36 L173.1 527.36 L174.1 527.36 L175.1 527.36 L176.0 527.36 L177.0 527.36 L178.0 527.36 L178.9 527.36 L179.9 527.36 L180.9 527.35 L181.8 527.35 L182.8 527.35 L183.8 527.35 L184.8 527.35 L185.7 527.35 L186.7 527.35 L187.7 527.35 L188.6 527.35 L189.6 527.35 L190.6 527.35 L191.6 527.35 L192.5 527.35 L193.5 527.35 L194.5 527.35 L195.4 527.35 L196.4 527.35 L197.4 527.35 L198.4 527.35 L199.3 527.35 L200.3 527.35 L201.3 527.35 L202.2 527.35 L203.2 527.35 L204.2 527.35 L205.2 527.35 L206.1 527.35 L207.1 527.35 L208.1 527.35 L209.0 527.35 L210.0 527.35 L211.0 527.35 L211.9 527.35 L212.9 527.35 L213.9 527.35 L214.9 527.35 L215.8 527.35 L216.8 527.35 L217.8 527.35 L218.7 527.34 L219.7 527.34 L220.7 527.34 L221.7 527.34 L222.6 527.34 L223.6 527.34 L224.6 527.34 L225.5 527.34 L226.5 527.34 L227.5 527.34 L228.5 527.34 L229.4 527.34 L230.4 527.34 L231.4 527.34 L232.3 527.34 L233.3 527.34 L234.3 527.34 L235.3 527.34 L236.2 527.34 L237.2 527.34 L238.2 527.34 L239.1 527.34 L240.1 527.34 L241.1 527.34 L242.1 527.34 L243.0 527.34 L244.0 527.34 L245.0 527.34 L245.9 527.34 L246.9 527.34 L247.9 527.33 L248.8 527.33 L249.8 527.33 L250.8 527.33 L251.8 527.33 L252.7 527.33 L253.7 527.33 L254.7 527.33 L255.6 527.33 L256.6 527.33 L257.6 527.33 L258.6 527.33 L259.5 527.33 L260.5 527.33 L261.5 527.33 L262.4 527.33 L263.4 527.33 L264.4 527.33 L265.4 527.33 L266.3 527.33 L267.3 527.33 L268.3 527.33 L269.2 527.33 L270.2 527.33 L271.2 527.32 L272.2 527.32 L273.1 527.32 L274.1 527.32 L275.1 527.32 L276.0 527.32 L277.0 527.32 L278.0 527.32 L278.9 527.32 L279.9 527.32 L280.9 527.32 L281.9 527.32 L282.8 527.32 L283.8 527.32 L284.8 527.32 L285.7 527.32 L286.7 527.32 L287.7 527.32 L288.7 527.32 L289.6 527.31 L290.6 527.31 L291.6 527.31 L292.5 527.31 L293.5 527.31 L294.5 527.31 L295.5 527.31 L296.4 527.31 L297.4 527.31 L298.4 527.31 L299.3 527.31 L300.3 527.31 L301.3 527.31 L302.3 527.31 L303.2 527.31 L304.2 527.31 L305.2 527.30 L306.1 527.30 L307.1 527.30 L308.1 527.30 L309.0 527.30 L310.0 527.30 L311.0 527.30 L312.0 527.30 L312.9 527.30 L313.9 527.30 L314.9 527.30 L315.8 527.30 L316.8 527.30 L317.8 527.30 L318.8 527.29 L319.7 527.29 L320.7 527.29 L321.7 527.29 L322.6 527.29 L323.6 527.29 L324.6 527.29 L325.6 527.29 L326.5 527.29 L327.5 527.29 L328.5 527.29 L329.4 527.29 L330.4 527.28 L331.4 527.28 L332.4 527.28 L333.3 527.28 L334.3 527.28 L335.3 527.28 L336.2 527.28 L337.2 527.28 L338.2 527.28 L339.2 527.28 L340.1 527.28 L341.1 527.27 L342.1 527.27 L343.0 527.27 L344.0 527.27 L345.0 527.27 L345.9 527.27 L346.9 527.27 L347.9 527.27 L348.9 527.27 L349.8 527.27 L350.8 527.26 L351.8 527.26 L352.7 527.26 L353.7 527.26 L354.7 527.26 L355.7 527.26 L356.6 527.26 L357.6 527.26 L358.6 527.25 L359.5 527.25 L360.5 527.25 L361.5 527.25 L362.5 527.25 L363.4 527.25 L364.4 527.25 L365.4 527.25 L366.3 527.24 L367.3 527.24 L368.3 527.24 L369.3 527.24 L370.2 527.24 L371.2 527.24 L372.2 527.23 L373.1 527.23 L374.1 527.23 L375.1 527.23 L376.0 527.23 L377.0 527.23 L378.0 527.23 L379.0 527.22 L379.9 527.22 L380.9 527.22 L381.9 527.22 L382.8 527.22 L383.8 527.22 L384.8 527.21 L385.8 527.21 L386.7 527.21 L387.7 527.21 L388.7 527.21 L389.6 527.20 L390.6 527.20 L391.6 527.20 L392.6 527.20 L393.5 527.20 L394.5 527.19 L395.5 527.19 L396.4 527.19 L397.4 527.19 L398.4 527.19 L399.4 527.18 L400.3 527.18 L401.3 527.18 L402.3 527.18 L403.2 527.17 L404.2 527.17 L405.2 527.17 L406.1 527.17 L407.1 527.16 L408.1 527.16 L409.1 527.16 L410.0 527.16 L411.0 527.15 L412.0 527.15 L412.9 527.15 L413.9 527.14 L414.9 527.14 L415.9 527.14 L416.8 527.14 L417.8 527.13 L418.8 527.13 L419.7 527.13 L420.7 527.12 L421.7 527.12 L422.7 527.12 L423.6 527.11 L424.6 527.11 L425.6 527.11 L426.5 527.10 L427.5 527.10 L428.5 527.09 L429.5 527.09 L430.4 527.09 L431.4 527.08 L432.4 527.08 L433.3 527.07 L434.3 527.07 L435.3 527.07 L436.2 527.06 L437.2 527.06 L438.2 527.05 L439.2 527.05 L440.1 527.04 L441.1 527.04 L442.1 527.03 L443.0 527.03 L444.0 527.02 L445.0 527.02 L446.0 527.01 L446.9 527.00 L447.9 527.00 L448.9 526.99 L449.8 526.99 L450.8 526.98 L451.8 526.97 L452.8 526.97 L453.7 526.96 L454.7 526.95 L455.7 526.94 L456.6 526.93 L457.6 526.92 L458.6 526.91 L459.6 526.91 L460.5 526.89 L461.5 526.88 L462.5 526.87 L463.4 526.86 L464.4 526.85 L465.4 526.83 L466.4 526.82 L467.3 526.80 L468.3 526.79 L469.3 526.77 L470.2 526.75 L471.2 526.73 L472.2 526.71 L473.1 526.68 L474.1 526.66 L475.1 526.63 L476.1 526.60 L477.0 526.57 L478.0 526.53 L479.0 526.49 L479.9 526.45 L480.9 526.41 L481.9 526.36 L482.9 526.31 L483.8 526.25 L484.8 526.19 L485.8 526.13 L486.7 526.06 L487.7 525.98 L488.7 525.90 L489.7 525.81 L490.6 525.71 L491.6 525.61 L492.6 525.50 L493.5 525.37 L494.5 525.24 L495.5 525.10 L496.5 524.95 L497.4 524.79 L498.4 524.61 L499.4 524.42 L500.3 524.22 L501.3 524.01 L502.3 523.77 L503.2 523.53 L504.2 523.26 L505.2 522.98 L506.2 522.67 L507.1 522.35 L508.1 522.01 L509.1 521.65 L510.0 521.26 L511.0 520.85 L512.0 520.41 L513.0 519.95 L513.9 519.47 L514.9 518.95 L515.9 518.41 L516.8 517.84 L517.8 517.24 L518.8 516.61 L519.8 515.95 L520.7 515.25 L521.7 514.53 L522.7 513.77 L523.6 512.97 L524.6 512.15 L525.6 511.29 L526.6 510.39 L527.5 509.46 L528.5 508.49 L529.5 507.49 L530.4 506.46 L531.4 505.39 L532.4 504.29 L533.4 503.15 L534.3 501.99 L535.3 500.79 L536.3 499.56 L537.2 498.30 L538.2 497.02 L539.2 495.71 L540.1 494.37 L541.1 493.01 L542.1 491.63 L543.1 490.24 L544.0 488.82 L545.0 487.39 L546.0 485.95 L546.9 484.50 L547.9 483.04 L548.9 481.59 L549.9 480.13 L550.8 478.67 L551.8 477.22 L552.8 475.78 L553.7 474.35 L554.7 472.94 L555.7 471.55 L556.7 470.18 L557.6 468.84 L558.6 467.53 L559.6 466.26 L560.5 465.02 L561.5 463.83 L562.5 462.68 L563.5 461.59 L564.4 460.54 L565.4 459.55 L566.4 458.62 L567.3 457.76 L568.3 456.96 L569.3 456.23 L570.2 455.57 L571.2 454.98 L572.2 454.47 L573.2 454.04 L574.1 453.69 L575.1 453.42 L576.1 453.23 L577.0 453.13 L578.0 453.10 L579.0 453.16 L580.0 453.31 L580.9 453.53 L581.9 453.84 L582.9 454.23 L583.8 454.69 L584.8 455.24 L585.8 455.85 L586.8 456.55 L587.7 457.31 L588.7 458.14 L589.7 459.03 L590.6 459.99 L591.6 461.00 L592.6 462.07 L593.6 463.19 L594.5 464.36 L595.5 465.57 L596.5 466.82 L597.4 468.11 L598.4 469.43 L599.4 470.79 L600.3 472.16 L601.3 473.56 L602.3 474.98 L603.3 476.42 L604.2 477.86 L605.2 479.32 L606.2 480.77 L607.1 482.23 L608.1 483.69 L609.1 485.15 L610.1 486.59 L611.0 488.03 L612.0 489.45 L613.0 490.86 L613.9 492.25 L614.9 493.62 L615.9 494.97 L616.9 496.29 L617.8 497.59 L618.8 498.87 L619.8 500.11 L620.7 501.33 L621.7 502.51 L622.7 503.66 L623.7 504.78 L624.6 505.87 L625.6 506.92 L626.6 507.94 L627.5 508.93 L628.5 509.88 L629.5 510.79 L630.5 511.67 L631.4 512.52 L632.4 513.33 L633.4 514.11 L634.3 514.85 L635.3 515.57 L636.3 516.25 L637.2 516.90 L638.2 517.51 L639.2 518.10 L640.2 518.66 L641.1 519.19 L642.1 519.69 L643.1 520.16 L644.0 520.61 L645.0 521.04 L646.0 521.43 L647.0 521.81 L647.9 522.17 L648.9 522.50 L649.9 522.81 L650.8 523.11 L651.8 523.38 L652.8 523.64 L653.8 523.88 L654.7 524.10 L655.7 524.31 L656.7 524.51 L657.6 524.69 L658.6 524.86 L659.6 525.02 L660.6 525.17 L661.5 525.30 L662.5 525.43 L663.5 525.55 L664.4 525.66 L665.4 525.76 L666.4 525.85 L667.3 525.94 L668.3 526.02 L669.3 526.09 L670.3 526.16 L671.2 526.22 L672.2 526.28 L673.2 526.33 L674.1 526.38 L675.1 526.43 L676.1 526.47 L677.1 526.51 L678.0 526.55 L679.0 526.58 L680.0 526.61 L680.9 526.64 L681.9 526.67 L682.9 526.69 L683.9 526.72 L684.8 526.74 L685.8 526.76 L686.8 526.78 L687.7 526.79 L688.7 526.81 L689.7 526.83 L690.7 526.84 L691.6 526.85 L692.6 526.87 L693.6 526.88 L694.5 526.89 L695.5 526.90 L696.5 526.91 L697.4 526.92 L698.4 526.93 L699.4 526.94 L700.4 526.95 L701.3 526.95 L702.3 526.96 L703.3 526.97 L704.2 526.98 L705.2 526.98 L706.2 526.99 L707.2 527.00 L708.1 527.00 L709.1 527.01 L710.1 527.01 L711.0 527.02 L712.0 527.02 L713.0 527.03 L714.0 527.03 L714.9 527.04 L715.9 527.04 L716.9 527.05 L717.8 527.05 L718.8 527.06 L719.8 527.06 L720.8 527.07 L721.7 527.07 L722.7 527.08 L723.7 527.08 L724.6 527.08 L725.6 527.09 L726.6 527.09 L727.6 527.10 L728.5 527.10 L729.5 527.10 L730.5 527.11 L731.4 527.11 L732.4 527.11 L733.4 527.12 L734.3 527.12 L735.3 527.12 L736.3 527.13 L737.3 527.13 L738.2 527.13 L739.2 527.14 L740.2 527.14 L741.1 527.14 L742.1 527.15 L743.1 527.15 L744.1 527.15 L745.0 527.15 L746.0 527.16 L747.0 527.16 L747.9 527.16 L748.9 527.16 L749.9 527.17 L750.9 527.17 L751.8 527.17 L752.8 527.17 L753.8 527.18 L754.7 527.18 L755.7 527.18 L756.7 527.18 L757.7 527.19 L758.6 527.19 L759.6 527.19 L760.6 527.19 L761.5 527.19 L762.5 527.20 L763.5 527.20 L764.4 527.20 L765.4 527.20 L766.4 527.20 L767.4 527.21 L768.3 527.21 L769.3 527.21 L770.3 527.21 L771.2 527.21 L772.2 527.22 L773.2 527.22 L774.2 527.22 L775.1 527.22 L776.1 527.22 L777.1 527.22 L778.0 527.23 L779.0 527.23 L780.0 527.23 L781.0 527.23 L781.9 527.23 L782.9 527.23 L783.9 527.24 L784.8 527.24 L785.8 527.24 L786.8 527.24 L787.8 527.24 L788.7 527.24 L789.7 527.24 L790.7 527.25 L791.6 527.25 L792.6 527.25 L793.6 527.25 L794.5 527.25 L795.5 527.25 L796.5 527.25 L797.5 527.25 L798.4 527.26 L799.4 527.26 L800.4 527.26 L801.3 527.26 L802.3 527.26 L803.3 527.26 L804.3 527.26 L805.2 527.26 L806.2 527.27 L807.2 527.27 L808.1 527.27 L809.1 527.27 L810.1 527.27 L811.1 527.27 L812.0 527.27 L813.0 527.27 L814.0 527.27 L814.9 527.28 L815.9 527.28 L816.9 527.28 L817.9 527.28 L818.8 527.28 L819.8 527.28 L820.8 527.28 L821.7 527.28 L822.7 527.28 L823.7 527.28 L824.6 527.28 L825.6 527.29 L826.6 527.29 L827.6 527.29 L828.5 527.29 L829.5 527.29 L830.5 527.29 L831.4 527.29 L832.4 527.29 L833.4 527.29 L834.4 527.29 L835.3 527.29 L836.3 527.29 L837.3 527.30 L838.2 527.30 L839.2 527.30 L840.2 527.30 L841.2 527.30 L842.1 527.30 L843.1 527.30 L844.1 527.30 L845.0 527.30 L846.0 527.30 L847.0 527.30 L848.0 527.30 L848.9 527.30 L849.9 527.30 L850.9 527.31 L851.8 527.31 L852.8 527.31 L853.8 527.31 L854.8 527.31 L855.7 527.31 L856.7 527.31 L857.7 527.31 L858.6 527.31 L859.6 527.31 L860.6 527.31 L861.5 527.31 L862.5 527.31 L863.5 527.31 L864.5 527.31 L865.4 527.31 L866.4 527.32 L867.4 527.32 L868.3 527.32 L869.3 527.32 L870.3 527.32 L871.3 527.32 L872.2 527.32 L873.2 527.32 L883.2 527.40 Z"/>
<path id="hg" d="M-344.2 547.4 L235.8 -32.6 M-326.7 547.4 L253.3 -32.6 M-309.2 547.4 L270.8 -32.6 M-291.7 547.4 L288.3 -32.6 M-274.2 547.4 L305.8 -32.6 M-256.7 547.4 L323.3 -32.6 M-239.2 547.4 L340.8 -32.6 M-221.7 547.4 L358.3 -32.6 M-204.2 547.4 L375.8 -32.6 M-186.7 547.4 L393.3 -32.6 M-169.2 547.4 L410.8 -32.6 M-151.7 547.4 L428.3 -32.6 M-134.2 547.4 L445.8 -32.6 M-116.7 547.4 L463.3 -32.6 M-99.2 547.4 L480.8 -32.6 M-81.7 547.4 L498.3 -32.6 M-64.2 547.4 L515.8 -32.6 M-46.7 547.4 L533.3 -32.6 M-29.2 547.4 L550.8 -32.6 M-11.7 547.4 L568.3 -32.6 M5.8 547.4 L585.8 -32.6 M23.3 547.4 L603.3 -32.6 M40.8 547.4 L620.8 -32.6 M58.3 547.4 L638.3 -32.6 M75.8 547.4 L655.8 -32.6 M93.3 547.4 L673.3 -32.6 M110.8 547.4 L690.8 -32.6 M128.3 547.4 L708.3 -32.6 M145.8 547.4 L725.8 -32.6 M163.3 547.4 L743.3 -32.6 M180.8 547.4 L760.8 -32.6 M198.3 547.4 L778.3 -32.6 M215.8 547.4 L795.8 -32.6 M233.3 547.4 L813.3 -32.6 M250.8 547.4 L830.8 -32.6 M268.3 547.4 L848.3 -32.6 M285.8 547.4 L865.8 -32.6 M303.3 547.4 L883.3 -32.6 M320.8 547.4 L900.8 -32.6 M338.3 547.4 L918.3 -32.6 M355.8 547.4 L935.8 -32.6 M373.3 547.4 L953.3 -32.6 M390.8 547.4 L970.8 -32.6 M408.3 547.4 L988.3 -32.6 M425.8 547.4 L1005.8 -32.6 M443.3 547.4 L1023.3 -32.6 M460.8 547.4 L1040.8 -32.6 M478.3 547.4 L1058.3 -32.6 M495.8 547.4 L1075.8 -32.6 M513.3 547.4 L1093.3 -32.6 M530.8 547.4 L1110.8 -32.6 M548.3 547.4 L1128.3 -32.6 M565.8 547.4 L1145.8 -32.6 M583.3 547.4 L1163.3 -32.6 M600.8 547.4 L1180.8 -32.6 M618.3 547.4 L1198.3 -32.6 M635.8 547.4 L1215.8 -32.6 M653.3 547.4 L1233.3 -32.6 M670.8 547.4 L1250.8 -32.6"/>
<path id="ho" d="M216.8 537.4 L86.8 407.4 M234.2 537.4 L104.2 407.4 M251.7 537.4 L121.7 407.4 M269.1 537.4 L139.1 407.4 M286.6 537.4 L156.6 407.4 M304.0 537.4 L174.0 407.4 M321.5 537.4 L191.5 407.4 M338.9 537.4 L208.9 407.4 M356.4 537.4 L226.4 407.4 M373.8 537.4 L243.8 407.4 M391.3 537.4 L261.3 407.4 M408.8 537.4 L278.8 407.4 M426.2 537.4 L296.2 407.4 M443.6 537.4 L313.6 407.4 M461.1 537.4 L331.1 407.4 M478.5 537.4 L348.5 407.4 M496.0 537.4 L366.0 407.4 M513.4 537.4 L383.4 407.4 M530.9 537.4 L400.9 407.4 M548.3 537.4 L418.3 407.4 M565.8 537.4 L435.8 407.4 M583.2 537.4 L453.2 407.4 M600.7 537.4 L470.7 407.4 M618.1 537.4 L488.1 407.4 M635.6 537.4 L505.6 407.4 M653.0 537.4 L523.0 407.4 M670.5 537.4 L540.5 407.4 M688.0 537.4 L558.0 407.4 M705.4 537.4 L575.4 407.4 M722.8 537.4 L592.8 407.4 M740.3 537.4 L610.3 407.4 M757.8 537.4 L627.8 407.4"/>
<clipPath id="cg1"><use href="#pg1"/></clipPath>
<clipPath id="cg2"><use href="#pg2"/></clipPath>
<clipPath id="co1"><use href="#po1"/></clipPath>
<clipPath id="co2"><use href="#po2"/></clipPath>
<clipPath id="cf"><rect x="96.4" y="2.2" width="776.8000000000001" height="625.5999999999999"/></clipPath>
<clipPath id="clg"><rect x="608.4" y="120.9" width="71.89999999999998" height="35.900000000000006"/></clipPath>
<clipPath id="clo"><rect x="608.4" y="162.0" width="71.89999999999998" height="35.900000000000006"/></clipPath>
</defs>
<rect width="895" height="773" fill="#fff"/>
<!-- frame -->
<rect x="96.4" y="2.2" width="776.8000000000001" height="625.5999999999999" fill="none" stroke="#000" stroke-width="4.5" stroke-linejoin="round"/>
<g stroke="#000" stroke-width="4.5" stroke-linecap="round"><line x1="158.8" y1="629.3" x2="158.8" y2="634.3"/><line x1="223.7" y1="629.3" x2="223.7" y2="640.5"/><line x1="288.6" y1="629.3" x2="288.6" y2="634.3"/><line x1="353.6" y1="629.3" x2="353.6" y2="640.5"/><line x1="418.5" y1="629.3" x2="418.5" y2="634.3"/><line x1="483.5" y1="629.3" x2="483.5" y2="640.5"/><line x1="548.4" y1="629.3" x2="548.4" y2="634.3"/><line x1="613.3" y1="629.3" x2="613.3" y2="640.5"/><line x1="678.3" y1="629.3" x2="678.3" y2="634.3"/><line x1="743.2" y1="629.3" x2="743.2" y2="640.5"/><line x1="808.2" y1="629.3" x2="808.2" y2="634.3"/><line x1="873.1" y1="629.3" x2="873.1" y2="640.5"/></g>
<g clip-path="url(#cf)">
<!-- measured -->
<path d="M96.4 529.0 L105.1 531.5 L118.2 520.0 L130.2 526.5 L143.3 518.0 L151.3 520.5 L162.4 532.1 L176.1 510.0 L182.9 518.4 L187.5 517.4 L195.6 507.4 L201.6 508.0 L207.1 506.0 L213.7 497.9 L226.8 487.3 L238.8 470.2 L244.9 456.1 L243.6 448.0 L247.0 435.0 L250.0 420.0 L254.4 395.0 L259.9 360.0 L265.5 320.0 L270.9 280.0 L275.8 240.0 L281.0 200.0 L286.8 160.0 L292.6 130.0 L296.7 117.8 L303.2 92.0 L309.7 118.5 L315.8 140.0 L322.7 180.0 L329.5 220.0 L335.9 260.0 L342.6 300.0 L349.5 340.0 L357.9 380.0 L366.8 402.3 L378.4 428.3 L382.9 432.7 L391.0 442.0 L400.0 452.0 L410.0 463.0 L418.0 470.0 L424.0 467.6 L432.1 461.3 L438.0 468.8 L443.7 464.0 L454.4 439.0 L465.1 405.0 L471.0 385.0 L477.6 350.0 L483.2 320.0 L489.9 280.0 L495.7 250.0 L501.9 225.0 L508.1 212.4 L514.5 199.0 L521.1 219.5 L525.4 230.0 L535.4 260.0 L542.3 290.0 L548.6 320.0 L555.0 350.0 L562.7 380.0 L574.1 410.0 L580.4 425.0 L591.1 450.0 L603.4 475.0 L620.1 493.3 L630.2 488.7 L636.2 498.3 L643.2 505.4 L648.3 513.4 L655.3 509.4 L662.3 512.4 L669.4 519.4 L676.4 522.9 L687.5 535.5 L696.5 532.1 L707.6 534.1 L719.7 521.5 L726.7 523.5 L732.7 531.5 L744.6 536.2 L757.5 523.4 L765.0 531.3 L777.2 530.6 L789.4 523.6 L800.6 531.1 L809.3 530.2 L821.4 538.9 L834.4 529.4 L842.2 532.0 L847.4 536.3 L854.3 537.2 L861.2 530.2 L868.2 529.4 L872.5 533.7" fill="none" stroke="#c6c6c6" stroke-width="4.2" stroke-linejoin="round" stroke-linecap="round"/>
<!-- Pt(0) -->
<use href="#pg1" fill="url(#gg)"/>
<use href="#pg2" fill="url(#gg)"/>
<use href="#hg" stroke="#ff0000" stroke-width="2.2" clip-path="url(#cg1)" fill="none"/>
<use href="#hg" stroke="#ff0000" stroke-width="2.2" clip-path="url(#cg2)" fill="none"/>
<use href="#pg1" fill="none" stroke="#008000" stroke-width="4.3" stroke-linejoin="round"/>
<use href="#pg2" fill="none" stroke="#008000" stroke-width="4.3" stroke-linejoin="round"/>
<!-- Pt(II) -->
<use href="#po1" fill="url(#og)"/>
<use href="#po2" fill="url(#og)"/>
<use href="#ho" stroke="#ff0000" stroke-width="1.1" clip-path="url(#co1)" fill="none"/>
<use href="#ho" stroke="#ff0000" stroke-width="1.9" clip-path="url(#co2)" fill="none"/>
<use href="#po1" fill="none" stroke="#ff8000" stroke-width="4.2" stroke-linejoin="round"/>
<use href="#po2" fill="none" stroke="#ff8000" stroke-width="4.2" stroke-linejoin="round"/>
<!-- fit -->
<path d="M96.4 527.27 L97.4 527.27 L98.3 527.27 L99.3 527.27 L100.3 527.27 L101.3 527.27 L102.2 527.27 L103.2 527.27 L104.2 527.27 L105.1 527.27 L106.1 527.27 L107.1 527.26 L108.1 527.26 L109.0 527.26 L110.0 527.26 L111.0 527.26 L111.9 527.26 L112.9 527.26 L113.9 527.26 L114.8 527.26 L115.8 527.26 L116.8 527.26 L117.8 527.26 L118.7 527.25 L119.7 527.25 L120.7 527.25 L121.6 527.25 L122.6 527.25 L123.6 527.25 L124.6 527.25 L125.5 527.25 L126.5 527.25 L127.5 527.25 L128.4 527.24 L129.4 527.24 L130.4 527.24 L131.4 527.24 L132.3 527.24 L133.3 527.24 L134.3 527.24 L135.2 527.24 L136.2 527.24 L137.2 527.23 L138.2 527.23 L139.1 527.23 L140.1 527.23 L141.1 527.23 L142.0 527.23 L143.0 527.23 L144.0 527.23 L144.9 527.22 L145.9 527.22 L146.9 527.22 L147.9 527.22 L148.8 527.22 L149.8 527.22 L150.8 527.22 L151.7 527.21 L152.7 527.21 L153.7 527.21 L154.7 527.21 L155.6 527.21 L156.6 527.20 L157.6 527.20 L158.5 527.20 L159.5 527.20 L160.5 527.19 L161.5 527.19 L162.4 527.19 L163.4 527.18 L164.4 527.18 L165.3 527.17 L166.3 527.17 L167.3 527.16 L168.3 527.16 L169.2 527.15 L170.2 527.14 L171.2 527.13 L172.1 527.13 L173.1 527.12 L174.1 527.10 L175.1 527.09 L176.0 527.08 L177.0 527.06 L178.0 527.05 L178.9 527.03 L179.9 527.01 L180.9 526.98 L181.8 526.96 L182.8 526.93 L183.8 526.89 L184.8 526.86 L185.7 526.82 L186.7 526.77 L187.7 526.72 L188.6 526.67 L189.6 526.61 L190.6 526.54 L191.6 526.47 L192.5 526.38 L193.5 526.29 L194.5 526.19 L195.4 526.08 L196.4 525.96 L197.4 525.82 L198.4 525.67 L199.3 525.51 L200.3 525.33 L201.3 525.13 L202.2 524.92 L203.2 524.68 L204.2 524.42 L205.2 524.14 L206.1 523.83 L207.1 523.50 L208.1 523.13 L209.0 522.73 L210.0 522.30 L211.0 521.83 L211.9 521.32 L212.9 520.77 L213.9 520.17 L214.9 519.52 L215.8 518.82 L216.8 518.06 L217.8 517.25 L218.7 516.37 L219.7 515.43 L220.7 514.41 L221.7 513.33 L222.6 512.16 L223.6 510.91 L224.6 509.58 L225.5 508.15 L226.5 506.62 L227.5 505.00 L228.5 503.27 L229.4 501.43 L230.4 499.48 L231.4 497.40 L232.3 495.20 L233.3 492.87 L234.3 490.41 L235.3 487.81 L236.2 485.06 L237.2 482.17 L238.2 479.13 L239.1 475.93 L240.1 472.57 L241.1 469.04 L242.1 465.35 L243.0 461.49 L244.0 457.45 L245.0 453.24 L245.9 448.85 L246.9 444.27 L247.9 439.52 L248.8 434.59 L249.8 429.47 L250.8 424.17 L251.8 418.69 L252.7 413.02 L253.7 407.18 L254.7 401.17 L255.6 394.98 L256.6 388.62 L257.6 382.10 L258.6 375.41 L259.5 368.58 L260.5 361.60 L261.5 354.48 L262.4 347.23 L263.4 339.86 L264.4 332.38 L265.4 324.79 L266.3 317.12 L267.3 309.36 L268.3 301.54 L269.2 293.67 L270.2 285.76 L271.2 277.83 L272.2 269.88 L273.1 261.94 L274.1 254.03 L275.1 246.15 L276.0 238.32 L277.0 230.57 L278.0 222.91 L278.9 215.35 L279.9 207.91 L280.9 200.62 L281.9 193.49 L282.8 186.53 L283.8 179.77 L284.8 173.21 L285.7 166.89 L286.7 160.80 L287.7 154.98 L288.7 149.43 L289.6 144.18 L290.6 139.22 L291.6 134.58 L292.5 130.28 L293.5 126.31 L294.5 122.70 L295.5 119.45 L296.4 116.56 L297.4 114.06 L298.4 111.95 L299.3 110.22 L300.3 108.89 L301.3 107.96 L302.3 107.42 L303.2 107.29 L304.2 107.56 L305.2 108.23 L306.1 109.29 L307.1 110.74 L308.1 112.58 L309.0 114.80 L310.0 117.39 L311.0 120.34 L312.0 123.65 L312.9 127.30 L313.9 131.27 L314.9 135.57 L315.8 140.16 L316.8 145.05 L317.8 150.20 L318.8 155.62 L319.7 161.27 L320.7 167.15 L321.7 173.23 L322.6 179.50 L323.6 185.94 L324.6 192.53 L325.6 199.25 L326.5 206.08 L327.5 213.01 L328.5 220.01 L329.4 227.07 L330.4 234.17 L331.4 241.28 L332.4 248.40 L333.3 255.50 L334.3 262.57 L335.3 269.60 L336.2 276.55 L337.2 283.43 L338.2 290.22 L339.2 296.89 L340.1 303.45 L341.1 309.87 L342.1 316.15 L343.0 322.28 L344.0 328.24 L345.0 334.03 L345.9 339.64 L346.9 345.06 L347.9 350.30 L348.9 355.33 L349.8 360.16 L350.8 364.79 L351.8 369.21 L352.7 373.42 L353.7 377.42 L354.7 381.21 L355.7 384.80 L356.6 388.18 L357.6 391.36 L358.6 394.34 L359.5 397.13 L360.5 399.72 L361.5 402.14 L362.5 404.37 L363.4 406.43 L364.4 408.33 L365.4 410.07 L366.3 411.66 L367.3 413.10 L368.3 414.42 L369.3 415.61 L370.2 416.69 L371.2 417.66 L372.2 418.54 L373.1 419.33 L374.1 420.04 L375.1 420.68 L376.0 421.27 L377.0 421.81 L378.0 422.30 L379.0 422.77 L379.9 423.22 L380.9 423.65 L381.9 424.07 L382.8 424.50 L383.8 424.94 L384.8 425.40 L385.8 425.88 L386.7 426.39 L387.7 426.94 L388.7 427.52 L389.6 428.15 L390.6 428.83 L391.6 429.56 L392.6 430.35 L393.5 431.19 L394.5 432.09 L395.5 433.05 L396.4 434.06 L397.4 435.14 L398.4 436.27 L399.4 437.46 L400.3 438.71 L401.3 440.01 L402.3 441.35 L403.2 442.75 L404.2 444.19 L405.2 445.67 L406.1 447.19 L407.1 448.75 L408.1 450.33 L409.1 451.93 L410.0 453.56 L411.0 455.20 L412.0 456.85 L412.9 458.50 L413.9 460.16 L414.9 461.80 L415.9 463.44 L416.8 465.06 L417.8 466.66 L418.8 468.23 L419.7 469.77 L420.7 471.27 L421.7 472.73 L422.7 474.14 L423.6 475.49 L424.6 476.79 L425.6 478.02 L426.5 479.18 L427.5 480.26 L428.5 481.27 L429.5 482.19 L430.4 483.02 L431.4 483.75 L432.4 484.39 L433.3 484.92 L434.3 485.34 L435.3 485.65 L436.2 485.84 L437.2 485.92 L438.2 485.86 L439.2 485.68 L440.1 485.36 L441.1 484.90 L442.1 484.30 L443.0 483.56 L444.0 482.67 L445.0 481.64 L446.0 480.44 L446.9 479.09 L447.9 477.58 L448.9 475.91 L449.8 474.08 L450.8 472.08 L451.8 469.91 L452.8 467.58 L453.7 465.07 L454.7 462.40 L455.7 459.55 L456.6 456.53 L457.6 453.35 L458.6 449.99 L459.6 446.46 L460.5 442.77 L461.5 438.91 L462.5 434.89 L463.4 430.70 L464.4 426.36 L465.4 421.87 L466.4 417.23 L467.3 412.44 L468.3 407.52 L469.3 402.46 L470.2 397.28 L471.2 391.98 L472.2 386.56 L473.1 381.04 L474.1 375.43 L475.1 369.73 L476.1 363.96 L477.0 358.12 L478.0 352.23 L479.0 346.29 L479.9 340.32 L480.9 334.33 L481.9 328.33 L482.9 322.34 L483.8 316.36 L484.8 310.41 L485.8 304.51 L486.7 298.66 L487.7 292.89 L488.7 287.20 L489.7 281.61 L490.6 276.13 L491.6 270.78 L492.6 265.56 L493.5 260.50 L494.5 255.60 L495.5 250.88 L496.5 246.35 L497.4 242.03 L498.4 237.91 L499.4 234.02 L500.3 230.36 L501.3 226.94 L502.3 223.78 L503.2 220.87 L504.2 218.23 L505.2 215.86 L506.2 213.77 L507.1 211.96 L508.1 210.44 L509.1 209.21 L510.0 208.27 L511.0 207.62 L512.0 207.26 L513.0 207.19 L513.9 207.41 L514.9 207.91 L515.9 208.70 L516.8 209.76 L517.8 211.09 L518.8 212.69 L519.8 214.54 L520.7 216.65 L521.7 218.99 L522.7 221.56 L523.6 224.35 L524.6 227.36 L525.6 230.56 L526.6 233.95 L527.5 237.51 L528.5 241.23 L529.5 245.11 L530.4 249.12 L531.4 253.25 L532.4 257.50 L533.4 261.84 L534.3 266.27 L535.3 270.77 L536.3 275.33 L537.2 279.93 L538.2 284.57 L539.2 289.22 L540.1 293.89 L541.1 298.56 L542.1 303.22 L543.1 307.85 L544.0 312.45 L545.0 317.01 L546.0 321.52 L546.9 325.98 L547.9 330.37 L548.9 334.69 L549.9 338.93 L550.8 343.09 L551.8 347.16 L552.8 351.15 L553.7 355.04 L554.7 358.84 L555.7 362.54 L556.7 366.14 L557.6 369.64 L558.6 373.04 L559.6 376.34 L560.5 379.55 L561.5 382.66 L562.5 385.67 L563.5 388.60 L564.4 391.44 L565.4 394.19 L566.4 396.86 L567.3 399.46 L568.3 401.98 L569.3 404.43 L570.2 406.82 L571.2 409.15 L572.2 411.42 L573.2 413.64 L574.1 415.82 L575.1 417.95 L576.1 420.05 L577.0 422.11 L578.0 424.14 L579.0 426.14 L580.0 428.13 L580.9 430.09 L581.9 432.03 L582.9 433.96 L583.8 435.88 L584.8 437.79 L585.8 439.69 L586.8 441.58 L587.7 443.46 L588.7 445.34 L589.7 447.22 L590.6 449.09 L591.6 450.96 L592.6 452.83 L593.6 454.69 L594.5 456.54 L595.5 458.39 L596.5 460.24 L597.4 462.07 L598.4 463.90 L599.4 465.72 L600.3 467.53 L601.3 469.33 L602.3 471.11 L603.3 472.89 L604.2 474.64 L605.2 476.38 L606.2 478.10 L607.1 479.79 L608.1 481.47 L609.1 483.12 L610.1 484.75 L611.0 486.35 L612.0 487.93 L613.0 489.47 L613.9 490.99 L614.9 492.47 L615.9 493.92 L616.9 495.34 L617.8 496.73 L618.8 498.07 L619.8 499.39 L620.7 500.67 L621.7 501.91 L622.7 503.11 L623.7 504.27 L624.6 505.40 L625.6 506.49 L626.6 507.54 L627.5 508.56 L628.5 509.53 L629.5 510.47 L630.5 511.38 L631.4 512.24 L632.4 513.07 L633.4 513.86 L634.3 514.62 L635.3 515.35 L636.3 516.04 L637.2 516.70 L638.2 517.32 L639.2 517.92 L640.2 518.48 L641.1 519.02 L642.1 519.53 L643.1 520.01 L644.0 520.46 L645.0 520.89 L646.0 521.29 L647.0 521.67 L647.9 522.03 L648.9 522.36 L649.9 522.68 L650.8 522.97 L651.8 523.25 L652.8 523.51 L653.8 523.75 L654.7 523.98 L655.7 524.19 L656.7 524.39 L657.6 524.57 L658.6 524.74 L659.6 524.90 L660.6 525.05 L661.5 525.19 L662.5 525.32 L663.5 525.44 L664.4 525.55 L665.4 525.65 L666.4 525.74 L667.3 525.83 L668.3 525.91 L669.3 525.98 L670.3 526.05 L671.2 526.12 L672.2 526.18 L673.2 526.23 L674.1 526.28 L675.1 526.33 L676.1 526.37 L677.1 526.41 L678.0 526.45 L679.0 526.48 L680.0 526.51 L680.9 526.54 L681.9 526.57 L682.9 526.60 L683.9 526.62 L684.8 526.64 L685.8 526.66 L686.8 526.68 L687.7 526.70 L688.7 526.72 L689.7 526.73 L690.7 526.75 L691.6 526.76 L692.6 526.78 L693.6 526.79 L694.5 526.80 L695.5 526.81 L696.5 526.82 L697.4 526.83 L698.4 526.84 L699.4 526.85 L700.4 526.86 L701.3 526.87 L702.3 526.88 L703.3 526.88 L704.2 526.89 L705.2 526.90 L706.2 526.91 L707.2 526.91 L708.1 526.92 L709.1 526.93 L710.1 526.93 L711.0 526.94 L712.0 526.94 L713.0 526.95 L714.0 526.96 L714.9 526.96 L715.9 526.97 L716.9 526.97 L717.8 526.98 L718.8 526.98 L719.8 526.99 L720.8 526.99 L721.7 527.00 L722.7 527.00 L723.7 527.01 L724.6 527.01 L725.6 527.01 L726.6 527.02 L727.6 527.02 L728.5 527.03 L729.5 527.03 L730.5 527.04 L731.4 527.04 L732.4 527.04 L733.4 527.05 L734.3 527.05 L735.3 527.05 L736.3 527.06 L737.3 527.06 L738.2 527.07 L739.2 527.07 L740.2 527.07 L741.1 527.08 L742.1 527.08 L743.1 527.08 L744.1 527.08 L745.0 527.09 L746.0 527.09 L747.0 527.09 L747.9 527.10 L748.9 527.10 L749.9 527.10 L750.9 527.11 L751.8 527.11 L752.8 527.11 L753.8 527.11 L754.7 527.12 L755.7 527.12 L756.7 527.12 L757.7 527.12 L758.6 527.13 L759.6 527.13 L760.6 527.13 L761.5 527.13 L762.5 527.14 L763.5 527.14 L764.4 527.14 L765.4 527.14 L766.4 527.15 L767.4 527.15 L768.3 527.15 L769.3 527.15 L770.3 527.15 L771.2 527.16 L772.2 527.16 L773.2 527.16 L774.2 527.16 L775.1 527.17 L776.1 527.17 L777.1 527.17 L778.0 527.17 L779.0 527.17 L780.0 527.17 L781.0 527.18 L781.9 527.18 L782.9 527.18 L783.9 527.18 L784.8 527.18 L785.8 527.19 L786.8 527.19 L787.8 527.19 L788.7 527.19 L789.7 527.19 L790.7 527.19 L791.6 527.20 L792.6 527.20 L793.6 527.20 L794.5 527.20 L795.5 527.20 L796.5 527.20 L797.5 527.20 L798.4 527.21 L799.4 527.21 L800.4 527.21 L801.3 527.21 L802.3 527.21 L803.3 527.21 L804.3 527.21 L805.2 527.22 L806.2 527.22 L807.2 527.22 L808.1 527.22 L809.1 527.22 L810.1 527.22 L811.1 527.22 L812.0 527.23 L813.0 527.23 L814.0 527.23 L814.9 527.23 L815.9 527.23 L816.9 527.23 L817.9 527.23 L818.8 527.23 L819.8 527.23 L820.8 527.24 L821.7 527.24 L822.7 527.24 L823.7 527.24 L824.6 527.24 L825.6 527.24 L826.6 527.24 L827.6 527.24 L828.5 527.24 L829.5 527.25 L830.5 527.25 L831.4 527.25 L832.4 527.25 L833.4 527.25 L834.4 527.25 L835.3 527.25 L836.3 527.25 L837.3 527.25 L838.2 527.25 L839.2 527.26 L840.2 527.26 L841.2 527.26 L842.1 527.26 L843.1 527.26 L844.1 527.26 L845.0 527.26 L846.0 527.26 L847.0 527.26 L848.0 527.26 L848.9 527.26 L849.9 527.27 L850.9 527.27 L851.8 527.27 L852.8 527.27 L853.8 527.27 L854.8 527.27 L855.7 527.27 L856.7 527.27 L857.7 527.27 L858.6 527.27 L859.6 527.27 L860.6 527.27 L861.5 527.27 L862.5 527.28 L863.5 527.28 L864.5 527.28 L865.4 527.28 L866.4 527.28 L867.4 527.28 L868.3 527.28 L869.3 527.28 L870.3 527.28 L871.3 527.28 L872.2 527.28 L873.2 527.28" fill="none" stroke="#ff0000" stroke-width="6.6" stroke-linejoin="round" stroke-linecap="butt"/>
</g>
<!-- legend -->
<line x1="608.3" y1="56.5" x2="680.6" y2="56.5" stroke="#c6c6c6" stroke-width="5.0" stroke-linecap="round"/>
<line x1="608.7" y1="97.5" x2="680.4" y2="97.5" stroke="#ff0000" stroke-width="7.2" stroke-linecap="round"/>
<rect x="608.4" y="120.9" width="71.89999999999998" height="35.900000000000006" fill="url(#lgg)"/>
<path d="M538.1 159.8 L580.0 117.9 M555.5 159.8 L597.4 117.9 M573.0 159.8 L614.9 117.9 M590.4 159.8 L632.3 117.9 M607.9 159.8 L649.8 117.9 M625.4 159.8 L667.2 117.9 M642.8 159.8 L684.7 117.9 M660.2 159.8 L702.1 117.9 M677.7 159.8 L719.6 117.9 M695.1 159.8 L737.0 117.9 M712.6 159.8 L754.5 117.9 M730.0 159.8 L771.9 117.9 M747.5 159.8 L789.4 117.9 M764.9 159.8 L806.8 117.9" stroke="#ff0000" stroke-width="2.4" clip-path="url(#clg)" fill="none"/>
<rect x="608.4" y="120.9" width="71.89999999999998" height="35.900000000000006" fill="none" stroke="#000" stroke-width="1"/>
<rect x="608.4" y="162.0" width="71.89999999999998" height="35.900000000000006" fill="url(#log)"/>
<path d="M559.2 200.9 L517.3 159.0 M576.6 200.9 L534.8 159.0 M594.1 200.9 L552.2 159.0 M611.5 200.9 L569.6 159.0 M629.0 200.9 L587.1 159.0 M646.5 200.9 L604.6 159.0 M663.9 200.9 L622.0 159.0 M681.4 200.9 L639.5 159.0 M698.8 200.9 L656.9 159.0 M716.2 200.9 L674.4 159.0 M733.7 200.9 L691.8 159.0 M751.1 200.9 L709.2 159.0 M768.6 200.9 L726.7 159.0 M786.0 200.9 L744.1 159.0" stroke="#ff0000" stroke-width="2.4" clip-path="url(#clo)" fill="none"/>
<rect x="608.4" y="162.0" width="71.89999999999998" height="35.900000000000006" fill="none" stroke="#000" stroke-width="1"/>
<g font-family="Liberation Sans, Arial, Helvetica, sans-serif" font-weight="bold" font-size="33" fill="#000">
<text transform="translate(690.0 68.0) scale(0.99 1)">Measured</text>
<text transform="translate(690.0 109.2) scale(0.99 1)">Fitting</text>
<text transform="translate(690.0 150.3) scale(0.99 1)">Pt (0)</text>
<text transform="translate(690.0 191.4) scale(0.99 1)">Pt (II)</text>
<text transform="translate(111.3 52.3) scale(1.003 1)">Pt 4f</text>
</g>
<g font-family="Liberation Sans, Arial, Helvetica, sans-serif" font-weight="bold" font-size="43" fill="#000"><text transform="translate(223.7 681.0) scale(0.962 1)" text-anchor="middle">70</text><text transform="translate(353.6 681.0) scale(0.962 1)" text-anchor="middle">72</text><text transform="translate(483.5 681.0) scale(0.962 1)" text-anchor="middle">74</text><text transform="translate(613.3 681.0) scale(0.962 1)" text-anchor="middle">76</text><text transform="translate(743.2 681.0) scale(0.962 1)" text-anchor="middle">78</text><text transform="translate(873.1 681.0) scale(0.962 1)" text-anchor="middle">80</text></g>
<text font-family="Liberation Sans, Arial, Helvetica, sans-serif" font-weight="bold" font-size="54" transform="translate(231.5 759.3) scale(0.983 1)" fill="#000">Binding Energy (eV)</text>
<text font-family="Liberation Sans, Arial, Helvetica, sans-serif" font-weight="bold" font-size="54" transform="translate(43.2 477.7) rotate(-90) scale(0.987 1)" fill="#000">Intensity (a.u.)</text>
</svg>
</body></html>
